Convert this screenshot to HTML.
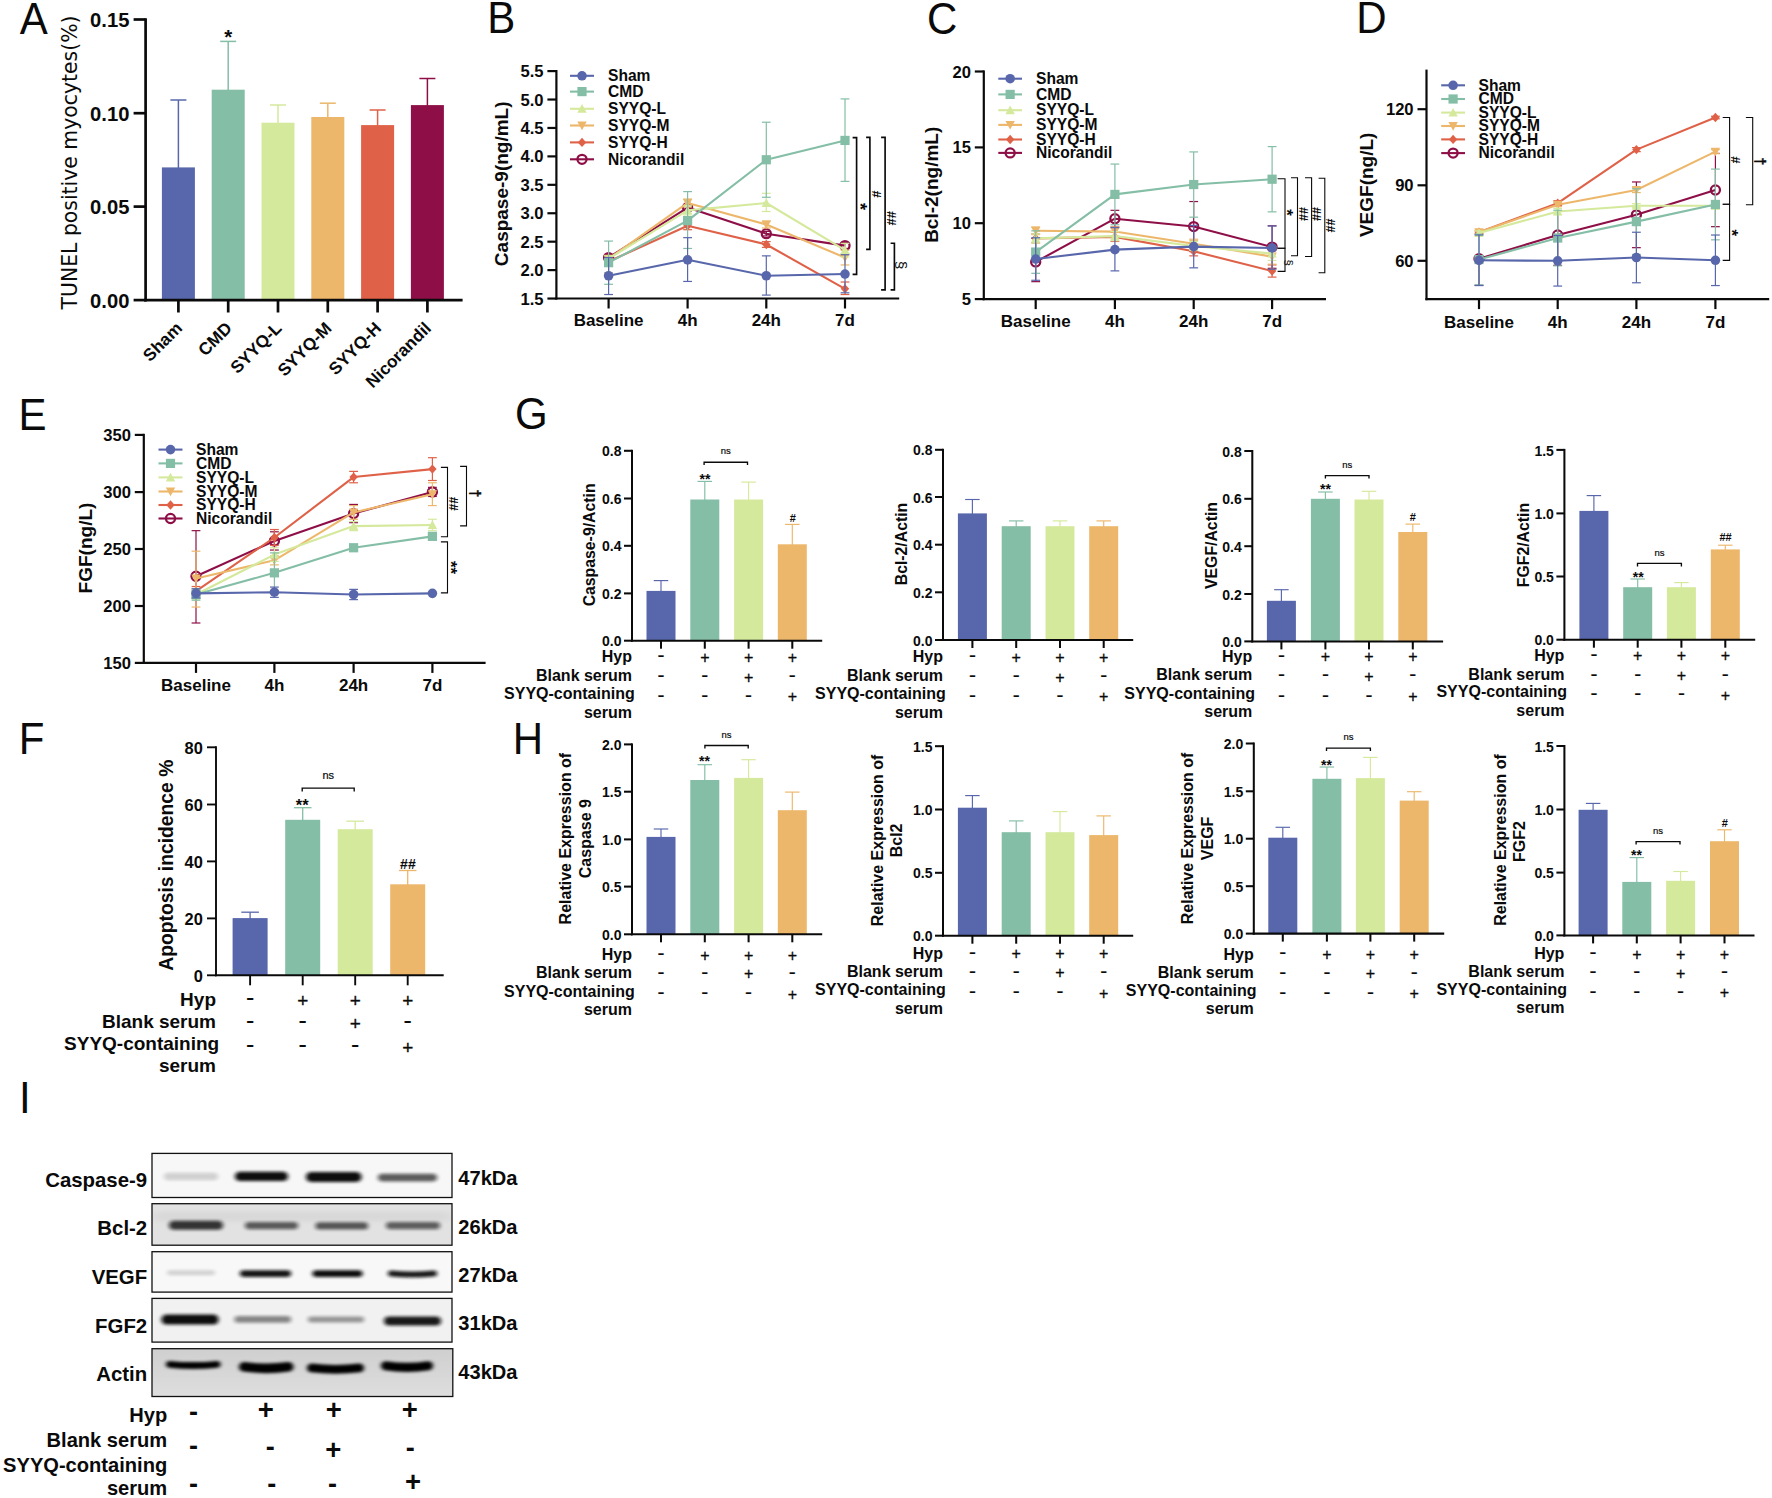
<!DOCTYPE html>
<html lang="en">
<head>
<meta charset="utf-8">
<title>Figure</title>
<style>
html,body{margin:0;padding:0;background:#fff;}
body{width:1772px;height:1498px;overflow:hidden;font-family:"Liberation Sans",Arial,sans-serif;}
svg{display:block;}
</style>
</head>
<body>
<svg width="1772" height="1498" viewBox="0 0 1772 1498" font-family="'Liberation Sans', Arial, sans-serif">
<text transform="translate(19.82 33.6) scale(1 1.05)" font-size="42" font-weight="400" fill="#0a0a0a">A</text>
<line x1="178.4" y1="100" x2="178.4" y2="168.4" stroke="#5867AB" stroke-width="1.5" stroke-linecap="butt"/>
<line x1="170.4" y1="100" x2="186.4" y2="100" stroke="#5867AB" stroke-width="1.5" stroke-linecap="butt"/>
<rect x="161.9" y="167.4" width="33" height="132.7" fill="#5867AB"/>
<line x1="228.2" y1="41.4" x2="228.2" y2="90.7" stroke="#84BEA6" stroke-width="1.5" stroke-linecap="butt"/>
<line x1="220.2" y1="41.4" x2="236.2" y2="41.4" stroke="#84BEA6" stroke-width="1.5" stroke-linecap="butt"/>
<rect x="211.7" y="89.7" width="33" height="210.4" fill="#84BEA6"/>
<line x1="278" y1="105" x2="278" y2="123.7" stroke="#D5E99C" stroke-width="1.5" stroke-linecap="butt"/>
<line x1="270" y1="105" x2="286" y2="105" stroke="#D5E99C" stroke-width="1.5" stroke-linecap="butt"/>
<rect x="261.5" y="122.7" width="33" height="177.4" fill="#D5E99C"/>
<line x1="327.8" y1="103.2" x2="327.8" y2="118" stroke="#EDB76B" stroke-width="1.5" stroke-linecap="butt"/>
<line x1="319.8" y1="103.2" x2="335.8" y2="103.2" stroke="#EDB76B" stroke-width="1.5" stroke-linecap="butt"/>
<rect x="311.3" y="117" width="33" height="183.1" fill="#EDB76B"/>
<line x1="377.6" y1="110" x2="377.6" y2="126.1" stroke="#DF6148" stroke-width="1.5" stroke-linecap="butt"/>
<line x1="369.6" y1="110" x2="385.6" y2="110" stroke="#DF6148" stroke-width="1.5" stroke-linecap="butt"/>
<rect x="361.1" y="125.1" width="33" height="175" fill="#DF6148"/>
<line x1="427.4" y1="78.5" x2="427.4" y2="106.1" stroke="#8E0F47" stroke-width="1.5" stroke-linecap="butt"/>
<line x1="419.4" y1="78.5" x2="435.4" y2="78.5" stroke="#8E0F47" stroke-width="1.5" stroke-linecap="butt"/>
<rect x="410.9" y="105.1" width="33" height="195" fill="#8E0F47"/>
<line x1="145.6" y1="18.15" x2="145.6" y2="301.45" stroke="#0a0a0a" stroke-width="2.7" stroke-linecap="butt"/>
<line x1="144.25" y1="300.1" x2="462.6" y2="300.1" stroke="#0a0a0a" stroke-width="2.7" stroke-linecap="butt"/>
<line x1="133.6" y1="19.5" x2="145.6" y2="19.5" stroke="#0a0a0a" stroke-width="2.7" stroke-linecap="butt"/>
<text x="129.4" y="27.28" font-size="20.2" font-weight="700" text-anchor="end" fill="#0a0a0a">0.15</text>
<line x1="133.6" y1="113.2" x2="145.6" y2="113.2" stroke="#0a0a0a" stroke-width="2.7" stroke-linecap="butt"/>
<text x="129.4" y="120.98" font-size="20.2" font-weight="700" text-anchor="end" fill="#0a0a0a">0.10</text>
<line x1="133.6" y1="206.6" x2="145.6" y2="206.6" stroke="#0a0a0a" stroke-width="2.7" stroke-linecap="butt"/>
<text x="129.4" y="214.38" font-size="20.2" font-weight="700" text-anchor="end" fill="#0a0a0a">0.05</text>
<line x1="133.6" y1="300.1" x2="145.6" y2="300.1" stroke="#0a0a0a" stroke-width="2.7" stroke-linecap="butt"/>
<text x="129.4" y="307.88" font-size="20.2" font-weight="700" text-anchor="end" fill="#0a0a0a">0.00</text>
<line x1="178.4" y1="300.1" x2="178.4" y2="312.5" stroke="#0a0a0a" stroke-width="2.7" stroke-linecap="butt"/>
<line x1="228.2" y1="300.1" x2="228.2" y2="312.5" stroke="#0a0a0a" stroke-width="2.7" stroke-linecap="butt"/>
<line x1="278" y1="300.1" x2="278" y2="312.5" stroke="#0a0a0a" stroke-width="2.7" stroke-linecap="butt"/>
<line x1="327.8" y1="300.1" x2="327.8" y2="312.5" stroke="#0a0a0a" stroke-width="2.7" stroke-linecap="butt"/>
<line x1="377.6" y1="300.1" x2="377.6" y2="312.5" stroke="#0a0a0a" stroke-width="2.7" stroke-linecap="butt"/>
<line x1="427.4" y1="300.1" x2="427.4" y2="312.5" stroke="#0a0a0a" stroke-width="2.7" stroke-linecap="butt"/>
<text x="77.2" y="162.5" font-size="20.4" font-weight="400" text-anchor="middle" fill="#0a0a0a" transform="rotate(-90 77.2 162.5)" font-family="'DejaVu Sans', 'Liberation Sans', sans-serif">TUNEL positive myocytes(%)</text>
<text x="183.2" y="329.3" font-size="17.2" font-weight="700" text-anchor="end" fill="#0a0a0a" transform="rotate(-45 183.2 329.3)">Sham</text>
<text x="233" y="329.3" font-size="17.2" font-weight="700" text-anchor="end" fill="#0a0a0a" transform="rotate(-45 233 329.3)">CMD</text>
<text x="282.8" y="329.3" font-size="17.2" font-weight="700" text-anchor="end" fill="#0a0a0a" transform="rotate(-45 282.8 329.3)">SYYQ-L</text>
<text x="332.6" y="329.3" font-size="17.2" font-weight="700" text-anchor="end" fill="#0a0a0a" transform="rotate(-45 332.6 329.3)">SYYQ-M</text>
<text x="382.4" y="329.3" font-size="17.2" font-weight="700" text-anchor="end" fill="#0a0a0a" transform="rotate(-45 382.4 329.3)">SYYQ-H</text>
<text x="432.2" y="329.3" font-size="17.2" font-weight="700" text-anchor="end" fill="#0a0a0a" transform="rotate(-45 432.2 329.3)">Nicorandil</text>
<text x="228.3" y="44.19" font-size="20.5" font-weight="700" text-anchor="middle" fill="#0a0a0a">*</text>
<text transform="translate(487.35 33.4) scale(1 1.05)" font-size="42" font-weight="400" fill="#0a0a0a">B</text>
<line x1="608.6" y1="254.72" x2="608.6" y2="260.4" stroke="#8E0F47" stroke-width="1.2" stroke-linecap="butt"/>
<line x1="604.2" y1="254.72" x2="613" y2="254.72" stroke="#8E0F47" stroke-width="1.2" stroke-linecap="butt"/>
<line x1="604.2" y1="260.4" x2="613" y2="260.4" stroke="#8E0F47" stroke-width="1.2" stroke-linecap="butt"/>
<line x1="687.6" y1="204.68" x2="687.6" y2="210.37" stroke="#8E0F47" stroke-width="1.2" stroke-linecap="butt"/>
<line x1="683.2" y1="204.68" x2="692" y2="204.68" stroke="#8E0F47" stroke-width="1.2" stroke-linecap="butt"/>
<line x1="683.2" y1="210.37" x2="692" y2="210.37" stroke="#8E0F47" stroke-width="1.2" stroke-linecap="butt"/>
<line x1="766.3" y1="231.41" x2="766.3" y2="235.95" stroke="#8E0F47" stroke-width="1.2" stroke-linecap="butt"/>
<line x1="761.9" y1="231.41" x2="770.7" y2="231.41" stroke="#8E0F47" stroke-width="1.2" stroke-linecap="butt"/>
<line x1="761.9" y1="235.95" x2="770.7" y2="235.95" stroke="#8E0F47" stroke-width="1.2" stroke-linecap="butt"/>
<line x1="845" y1="242.78" x2="845" y2="248.46" stroke="#8E0F47" stroke-width="1.2" stroke-linecap="butt"/>
<line x1="840.6" y1="242.78" x2="849.4" y2="242.78" stroke="#8E0F47" stroke-width="1.2" stroke-linecap="butt"/>
<line x1="840.6" y1="248.46" x2="849.4" y2="248.46" stroke="#8E0F47" stroke-width="1.2" stroke-linecap="butt"/>
<polyline points="608.6,257.56 687.6,207.52 766.3,233.68 845,245.62" fill="none" stroke="#8E0F47" stroke-width="2.1" stroke-linejoin="round"/>
<circle cx="608.6" cy="257.56" r="4.55" fill="none" stroke="#8E0F47" stroke-width="2.25"/>
<circle cx="687.6" cy="207.52" r="4.55" fill="none" stroke="#8E0F47" stroke-width="2.25"/>
<circle cx="766.3" cy="233.68" r="4.55" fill="none" stroke="#8E0F47" stroke-width="2.25"/>
<circle cx="845" cy="245.62" r="4.55" fill="none" stroke="#8E0F47" stroke-width="2.25"/>
<line x1="608.6" y1="258.7" x2="608.6" y2="264.38" stroke="#DF6148" stroke-width="1.2" stroke-linecap="butt"/>
<line x1="604.2" y1="258.7" x2="613" y2="258.7" stroke="#DF6148" stroke-width="1.2" stroke-linecap="butt"/>
<line x1="604.2" y1="264.38" x2="613" y2="264.38" stroke="#DF6148" stroke-width="1.2" stroke-linecap="butt"/>
<line x1="687.6" y1="221.74" x2="687.6" y2="229.7" stroke="#DF6148" stroke-width="1.2" stroke-linecap="butt"/>
<line x1="683.2" y1="221.74" x2="692" y2="221.74" stroke="#DF6148" stroke-width="1.2" stroke-linecap="butt"/>
<line x1="683.2" y1="229.7" x2="692" y2="229.7" stroke="#DF6148" stroke-width="1.2" stroke-linecap="butt"/>
<line x1="766.3" y1="241.64" x2="766.3" y2="247.33" stroke="#DF6148" stroke-width="1.2" stroke-linecap="butt"/>
<line x1="761.9" y1="241.64" x2="770.7" y2="241.64" stroke="#DF6148" stroke-width="1.2" stroke-linecap="butt"/>
<line x1="761.9" y1="247.33" x2="770.7" y2="247.33" stroke="#DF6148" stroke-width="1.2" stroke-linecap="butt"/>
<line x1="845" y1="282.01" x2="845" y2="294.52" stroke="#DF6148" stroke-width="1.2" stroke-linecap="butt"/>
<line x1="840.6" y1="282.01" x2="849.4" y2="282.01" stroke="#DF6148" stroke-width="1.2" stroke-linecap="butt"/>
<line x1="840.6" y1="294.52" x2="849.4" y2="294.52" stroke="#DF6148" stroke-width="1.2" stroke-linecap="butt"/>
<polyline points="608.6,261.54 687.6,225.72 766.3,244.48 845,288.83" fill="none" stroke="#DF6148" stroke-width="2.1" stroke-linejoin="round"/>
<polygon points="608.6,256.84 612.8,261.54 608.6,266.24 604.4,261.54" fill="#DF6148"/>
<polygon points="687.6,221.02 691.8,225.72 687.6,230.42 683.4,225.72" fill="#DF6148"/>
<polygon points="766.3,239.78 770.5,244.48 766.3,249.18 762.1,244.48" fill="#DF6148"/>
<polygon points="845,284.13 849.2,288.83 845,293.53 840.8,288.83" fill="#DF6148"/>
<line x1="608.6" y1="255.86" x2="608.6" y2="272.91" stroke="#EDB76B" stroke-width="1.2" stroke-linecap="butt"/>
<line x1="604.2" y1="255.86" x2="613" y2="255.86" stroke="#EDB76B" stroke-width="1.2" stroke-linecap="butt"/>
<line x1="604.2" y1="272.91" x2="613" y2="272.91" stroke="#EDB76B" stroke-width="1.2" stroke-linecap="butt"/>
<line x1="687.6" y1="199" x2="687.6" y2="206.96" stroke="#EDB76B" stroke-width="1.2" stroke-linecap="butt"/>
<line x1="683.2" y1="199" x2="692" y2="199" stroke="#EDB76B" stroke-width="1.2" stroke-linecap="butt"/>
<line x1="683.2" y1="206.96" x2="692" y2="206.96" stroke="#EDB76B" stroke-width="1.2" stroke-linecap="butt"/>
<line x1="766.3" y1="221.17" x2="766.3" y2="227.99" stroke="#EDB76B" stroke-width="1.2" stroke-linecap="butt"/>
<line x1="761.9" y1="221.17" x2="770.7" y2="221.17" stroke="#EDB76B" stroke-width="1.2" stroke-linecap="butt"/>
<line x1="761.9" y1="227.99" x2="770.7" y2="227.99" stroke="#EDB76B" stroke-width="1.2" stroke-linecap="butt"/>
<line x1="845" y1="250.17" x2="845" y2="264.95" stroke="#EDB76B" stroke-width="1.2" stroke-linecap="butt"/>
<line x1="840.6" y1="250.17" x2="849.4" y2="250.17" stroke="#EDB76B" stroke-width="1.2" stroke-linecap="butt"/>
<line x1="840.6" y1="264.95" x2="849.4" y2="264.95" stroke="#EDB76B" stroke-width="1.2" stroke-linecap="butt"/>
<polyline points="608.6,258.7 687.6,202.98 766.3,224.58 845,257.56" fill="none" stroke="#EDB76B" stroke-width="2.1" stroke-linejoin="round"/>
<polygon points="608.6,263.4 603.9,254.7 613.3,254.7" fill="#EDB76B"/>
<polygon points="687.6,207.68 682.9,198.98 692.3,198.98" fill="#EDB76B"/>
<polygon points="766.3,229.28 761.6,220.59 771,220.59" fill="#EDB76B"/>
<polygon points="845,262.26 840.3,253.57 849.7,253.57" fill="#EDB76B"/>
<line x1="608.6" y1="255.86" x2="608.6" y2="261.54" stroke="#D5E99C" stroke-width="1.2" stroke-linecap="butt"/>
<line x1="604.2" y1="255.86" x2="613" y2="255.86" stroke="#D5E99C" stroke-width="1.2" stroke-linecap="butt"/>
<line x1="604.2" y1="261.54" x2="613" y2="261.54" stroke="#D5E99C" stroke-width="1.2" stroke-linecap="butt"/>
<line x1="687.6" y1="205.82" x2="687.6" y2="214.92" stroke="#D5E99C" stroke-width="1.2" stroke-linecap="butt"/>
<line x1="683.2" y1="205.82" x2="692" y2="205.82" stroke="#D5E99C" stroke-width="1.2" stroke-linecap="butt"/>
<line x1="683.2" y1="214.92" x2="692" y2="214.92" stroke="#D5E99C" stroke-width="1.2" stroke-linecap="butt"/>
<line x1="766.3" y1="193.31" x2="766.3" y2="211.5" stroke="#D5E99C" stroke-width="1.2" stroke-linecap="butt"/>
<line x1="761.9" y1="193.31" x2="770.7" y2="193.31" stroke="#D5E99C" stroke-width="1.2" stroke-linecap="butt"/>
<line x1="761.9" y1="211.5" x2="770.7" y2="211.5" stroke="#D5E99C" stroke-width="1.2" stroke-linecap="butt"/>
<line x1="845" y1="243.35" x2="845" y2="256.99" stroke="#D5E99C" stroke-width="1.2" stroke-linecap="butt"/>
<line x1="840.6" y1="243.35" x2="849.4" y2="243.35" stroke="#D5E99C" stroke-width="1.2" stroke-linecap="butt"/>
<line x1="840.6" y1="256.99" x2="849.4" y2="256.99" stroke="#D5E99C" stroke-width="1.2" stroke-linecap="butt"/>
<polyline points="608.6,258.7 687.6,210.37 766.3,202.98 845,250.17" fill="none" stroke="#D5E99C" stroke-width="2.1" stroke-linejoin="round"/>
<polygon points="608.6,254 603.9,262.69 613.3,262.69" fill="#D5E99C"/>
<polygon points="687.6,205.67 682.9,214.36 692.3,214.36" fill="#D5E99C"/>
<polygon points="766.3,198.28 761.6,206.97 771,206.97" fill="#D5E99C"/>
<polygon points="845,245.47 840.3,254.16 849.7,254.16" fill="#D5E99C"/>
<line x1="608.6" y1="241.07" x2="608.6" y2="284.29" stroke="#84BEA6" stroke-width="1.2" stroke-linecap="butt"/>
<line x1="604.2" y1="241.07" x2="613" y2="241.07" stroke="#84BEA6" stroke-width="1.2" stroke-linecap="butt"/>
<line x1="604.2" y1="284.29" x2="613" y2="284.29" stroke="#84BEA6" stroke-width="1.2" stroke-linecap="butt"/>
<line x1="687.6" y1="191.6" x2="687.6" y2="248.46" stroke="#84BEA6" stroke-width="1.2" stroke-linecap="butt"/>
<line x1="683.2" y1="191.6" x2="692" y2="191.6" stroke="#84BEA6" stroke-width="1.2" stroke-linecap="butt"/>
<line x1="683.2" y1="248.46" x2="692" y2="248.46" stroke="#84BEA6" stroke-width="1.2" stroke-linecap="butt"/>
<line x1="766.3" y1="122.23" x2="766.3" y2="197.29" stroke="#84BEA6" stroke-width="1.2" stroke-linecap="butt"/>
<line x1="761.9" y1="122.23" x2="770.7" y2="122.23" stroke="#84BEA6" stroke-width="1.2" stroke-linecap="butt"/>
<line x1="761.9" y1="197.29" x2="770.7" y2="197.29" stroke="#84BEA6" stroke-width="1.2" stroke-linecap="butt"/>
<line x1="845" y1="98.92" x2="845" y2="181.37" stroke="#84BEA6" stroke-width="1.2" stroke-linecap="butt"/>
<line x1="840.6" y1="98.92" x2="849.4" y2="98.92" stroke="#84BEA6" stroke-width="1.2" stroke-linecap="butt"/>
<line x1="840.6" y1="181.37" x2="849.4" y2="181.37" stroke="#84BEA6" stroke-width="1.2" stroke-linecap="butt"/>
<polyline points="608.6,262.68 687.6,220.6 766.3,159.76 845,140.43" fill="none" stroke="#84BEA6" stroke-width="2.1" stroke-linejoin="round"/>
<rect x="604" y="258.08" width="9.2" height="9.2" fill="#84BEA6"/>
<rect x="683" y="216" width="9.2" height="9.2" fill="#84BEA6"/>
<rect x="761.7" y="155.16" width="9.2" height="9.2" fill="#84BEA6"/>
<rect x="840.4" y="135.83" width="9.2" height="9.2" fill="#84BEA6"/>
<line x1="608.6" y1="257.56" x2="608.6" y2="294.52" stroke="#5867AB" stroke-width="1.2" stroke-linecap="butt"/>
<line x1="604.2" y1="257.56" x2="613" y2="257.56" stroke="#5867AB" stroke-width="1.2" stroke-linecap="butt"/>
<line x1="604.2" y1="294.52" x2="613" y2="294.52" stroke="#5867AB" stroke-width="1.2" stroke-linecap="butt"/>
<line x1="687.6" y1="237.66" x2="687.6" y2="281.44" stroke="#5867AB" stroke-width="1.2" stroke-linecap="butt"/>
<line x1="683.2" y1="237.66" x2="692" y2="237.66" stroke="#5867AB" stroke-width="1.2" stroke-linecap="butt"/>
<line x1="683.2" y1="281.44" x2="692" y2="281.44" stroke="#5867AB" stroke-width="1.2" stroke-linecap="butt"/>
<line x1="766.3" y1="255.86" x2="766.3" y2="295.09" stroke="#5867AB" stroke-width="1.2" stroke-linecap="butt"/>
<line x1="761.9" y1="255.86" x2="770.7" y2="255.86" stroke="#5867AB" stroke-width="1.2" stroke-linecap="butt"/>
<line x1="761.9" y1="295.09" x2="770.7" y2="295.09" stroke="#5867AB" stroke-width="1.2" stroke-linecap="butt"/>
<line x1="845" y1="254.72" x2="845" y2="292.81" stroke="#5867AB" stroke-width="1.2" stroke-linecap="butt"/>
<line x1="840.6" y1="254.72" x2="849.4" y2="254.72" stroke="#5867AB" stroke-width="1.2" stroke-linecap="butt"/>
<line x1="840.6" y1="292.81" x2="849.4" y2="292.81" stroke="#5867AB" stroke-width="1.2" stroke-linecap="butt"/>
<polyline points="608.6,275.76 687.6,259.84 766.3,275.76 845,274.05" fill="none" stroke="#5867AB" stroke-width="2.1" stroke-linejoin="round"/>
<circle cx="608.6" cy="275.76" r="4.8" fill="#5867AB"/>
<circle cx="687.6" cy="259.84" r="4.8" fill="#5867AB"/>
<circle cx="766.3" cy="275.76" r="4.8" fill="#5867AB"/>
<circle cx="845" cy="274.05" r="4.8" fill="#5867AB"/>
<line x1="556.4" y1="70" x2="556.4" y2="299.6" stroke="#0a0a0a" stroke-width="2.2" stroke-linecap="butt"/>
<line x1="555.3" y1="298.5" x2="899.2" y2="298.5" stroke="#0a0a0a" stroke-width="2.2" stroke-linecap="butt"/>
<line x1="547.4" y1="71.1" x2="556.4" y2="71.1" stroke="#0a0a0a" stroke-width="2.2" stroke-linecap="butt"/>
<text x="543.5" y="77.13" font-size="16.6" font-weight="700" text-anchor="end" fill="#0a0a0a">5.5</text>
<line x1="547.4" y1="99.53" x2="556.4" y2="99.53" stroke="#0a0a0a" stroke-width="2.2" stroke-linecap="butt"/>
<text x="543.5" y="105.56" font-size="16.6" font-weight="700" text-anchor="end" fill="#0a0a0a">5.0</text>
<line x1="547.4" y1="127.96" x2="556.4" y2="127.96" stroke="#0a0a0a" stroke-width="2.2" stroke-linecap="butt"/>
<text x="543.5" y="134" font-size="16.6" font-weight="700" text-anchor="end" fill="#0a0a0a">4.5</text>
<line x1="547.4" y1="156.39" x2="556.4" y2="156.39" stroke="#0a0a0a" stroke-width="2.2" stroke-linecap="butt"/>
<text x="543.5" y="162.42" font-size="16.6" font-weight="700" text-anchor="end" fill="#0a0a0a">4.0</text>
<line x1="547.4" y1="184.82" x2="556.4" y2="184.82" stroke="#0a0a0a" stroke-width="2.2" stroke-linecap="butt"/>
<text x="543.5" y="190.85" font-size="16.6" font-weight="700" text-anchor="end" fill="#0a0a0a">3.5</text>
<line x1="547.4" y1="213.25" x2="556.4" y2="213.25" stroke="#0a0a0a" stroke-width="2.2" stroke-linecap="butt"/>
<text x="543.5" y="219.28" font-size="16.6" font-weight="700" text-anchor="end" fill="#0a0a0a">3.0</text>
<line x1="547.4" y1="241.68" x2="556.4" y2="241.68" stroke="#0a0a0a" stroke-width="2.2" stroke-linecap="butt"/>
<text x="543.5" y="247.71" font-size="16.6" font-weight="700" text-anchor="end" fill="#0a0a0a">2.5</text>
<line x1="547.4" y1="270.11" x2="556.4" y2="270.11" stroke="#0a0a0a" stroke-width="2.2" stroke-linecap="butt"/>
<text x="543.5" y="276.15" font-size="16.6" font-weight="700" text-anchor="end" fill="#0a0a0a">2.0</text>
<line x1="547.4" y1="298.54" x2="556.4" y2="298.54" stroke="#0a0a0a" stroke-width="2.2" stroke-linecap="butt"/>
<text x="543.5" y="304.57" font-size="16.6" font-weight="700" text-anchor="end" fill="#0a0a0a">1.5</text>
<line x1="608.6" y1="298.5" x2="608.6" y2="308.5" stroke="#0a0a0a" stroke-width="2.2" stroke-linecap="butt"/>
<text x="608.6" y="326.4" font-size="17" font-weight="700" text-anchor="middle" fill="#0a0a0a">Baseline</text>
<line x1="687.6" y1="298.5" x2="687.6" y2="308.5" stroke="#0a0a0a" stroke-width="2.2" stroke-linecap="butt"/>
<text x="687.6" y="326.4" font-size="17" font-weight="700" text-anchor="middle" fill="#0a0a0a">4h</text>
<line x1="766.3" y1="298.5" x2="766.3" y2="308.5" stroke="#0a0a0a" stroke-width="2.2" stroke-linecap="butt"/>
<text x="766.3" y="326.4" font-size="17" font-weight="700" text-anchor="middle" fill="#0a0a0a">24h</text>
<line x1="845" y1="298.5" x2="845" y2="308.5" stroke="#0a0a0a" stroke-width="2.2" stroke-linecap="butt"/>
<text x="845" y="326.4" font-size="17" font-weight="700" text-anchor="middle" fill="#0a0a0a">7d</text>
<line x1="570" y1="75.8" x2="594" y2="75.8" stroke="#5867AB" stroke-width="2.1" stroke-linecap="butt"/>
<circle cx="582" cy="75.8" r="4.8" fill="#5867AB"/>
<text x="608" y="81.03" font-size="15.6" font-weight="700" text-anchor="start" fill="#0a0a0a">Sham</text>
<line x1="570" y1="91.6" x2="594" y2="91.6" stroke="#84BEA6" stroke-width="2.1" stroke-linecap="butt"/>
<rect x="577.4" y="87" width="9.2" height="9.2" fill="#84BEA6"/>
<text x="608" y="96.83" font-size="15.6" font-weight="700" text-anchor="start" fill="#0a0a0a">CMD</text>
<line x1="570" y1="108.8" x2="594" y2="108.8" stroke="#D5E99C" stroke-width="2.1" stroke-linecap="butt"/>
<polygon points="582,104.1 577.3,112.8 586.7,112.8" fill="#D5E99C"/>
<text x="608" y="114.03" font-size="15.6" font-weight="700" text-anchor="start" fill="#0a0a0a">SYYQ-L</text>
<line x1="570" y1="125.5" x2="594" y2="125.5" stroke="#EDB76B" stroke-width="2.1" stroke-linecap="butt"/>
<polygon points="582,130.2 577.3,121.5 586.7,121.5" fill="#EDB76B"/>
<text x="608" y="130.73" font-size="15.6" font-weight="700" text-anchor="start" fill="#0a0a0a">SYYQ-M</text>
<line x1="570" y1="142.4" x2="594" y2="142.4" stroke="#DF6148" stroke-width="2.1" stroke-linecap="butt"/>
<polygon points="582,137.7 586.2,142.4 582,147.1 577.8,142.4" fill="#DF6148"/>
<text x="608" y="147.63" font-size="15.6" font-weight="700" text-anchor="start" fill="#0a0a0a">SYYQ-H</text>
<line x1="570" y1="159.3" x2="594" y2="159.3" stroke="#8E0F47" stroke-width="2.1" stroke-linecap="butt"/>
<circle cx="582" cy="159.3" r="4.55" fill="none" stroke="#8E0F47" stroke-width="2.25"/>
<text x="608" y="164.53" font-size="15.6" font-weight="700" text-anchor="start" fill="#0a0a0a">Nicorandil</text>
<text x="508.5" y="183.8" font-size="19" font-weight="700" text-anchor="middle" fill="#0a0a0a" transform="rotate(-90 508.5 183.8)">Caspase-9(ng/mL)</text>
<polyline points="852.6,137.6 856.6,137.6 856.6,274.4 852.6,274.4" fill="none" stroke="#0a0a0a" stroke-width="1.65" stroke-linejoin="miter"/>
<polyline points="866.1,137.4 869.9,137.4 869.9,249.3 866.1,249.3" fill="none" stroke="#0a0a0a" stroke-width="1.65" stroke-linejoin="miter"/>
<polyline points="881.1,137.4 885.1,137.4 885.1,289.9 881.1,289.9" fill="none" stroke="#0a0a0a" stroke-width="1.65" stroke-linejoin="miter"/>
<polyline points="890.6,243.2 894.4,243.2 894.4,289.9 890.6,289.9" fill="none" stroke="#0a0a0a" stroke-width="1.65" stroke-linejoin="miter"/>
<text x="854.07" y="206.6" font-size="18" font-weight="700" text-anchor="middle" fill="#0a0a0a" transform="rotate(90 854.07 206.6)">*</text>
<text x="871.55" y="194.2" font-size="13" font-weight="700" text-anchor="middle" fill="#0a0a0a" transform="rotate(90 871.55 194.2)">#</text>
<text x="886.75" y="218.2" font-size="13" font-weight="700" text-anchor="middle" fill="#0a0a0a" transform="rotate(90 886.75 218.2)">##</text>
<text x="896.44" y="265.1" font-size="15.5" font-weight="400" text-anchor="middle" fill="#0a0a0a" transform="rotate(90 896.44 265.1)">§</text>
<text transform="translate(927.07 33.6) scale(1 1.05)" font-size="42" font-weight="400" fill="#0a0a0a">C</text>
<line x1="1035.7" y1="238.41" x2="1035.7" y2="281.65" stroke="#8E0F47" stroke-width="1.2" stroke-linecap="butt"/>
<line x1="1031.3" y1="238.41" x2="1040.1" y2="238.41" stroke="#8E0F47" stroke-width="1.2" stroke-linecap="butt"/>
<line x1="1031.3" y1="281.65" x2="1040.1" y2="281.65" stroke="#8E0F47" stroke-width="1.2" stroke-linecap="butt"/>
<line x1="1114.9" y1="210.34" x2="1114.9" y2="227.03" stroke="#8E0F47" stroke-width="1.2" stroke-linecap="butt"/>
<line x1="1110.5" y1="210.34" x2="1119.3" y2="210.34" stroke="#8E0F47" stroke-width="1.2" stroke-linecap="butt"/>
<line x1="1110.5" y1="227.03" x2="1119.3" y2="227.03" stroke="#8E0F47" stroke-width="1.2" stroke-linecap="butt"/>
<line x1="1193.7" y1="201.54" x2="1193.7" y2="251.61" stroke="#8E0F47" stroke-width="1.2" stroke-linecap="butt"/>
<line x1="1189.3" y1="201.54" x2="1198.1" y2="201.54" stroke="#8E0F47" stroke-width="1.2" stroke-linecap="butt"/>
<line x1="1189.3" y1="251.61" x2="1198.1" y2="251.61" stroke="#8E0F47" stroke-width="1.2" stroke-linecap="butt"/>
<line x1="1272.1" y1="225.81" x2="1272.1" y2="268.3" stroke="#8E0F47" stroke-width="1.2" stroke-linecap="butt"/>
<line x1="1267.7" y1="225.81" x2="1276.5" y2="225.81" stroke="#8E0F47" stroke-width="1.2" stroke-linecap="butt"/>
<line x1="1267.7" y1="268.3" x2="1276.5" y2="268.3" stroke="#8E0F47" stroke-width="1.2" stroke-linecap="butt"/>
<polyline points="1035.7,261.93 1114.9,218.68 1193.7,226.57 1272.1,247.06" fill="none" stroke="#8E0F47" stroke-width="2.1" stroke-linejoin="round"/>
<circle cx="1035.7" cy="261.93" r="4.55" fill="none" stroke="#8E0F47" stroke-width="2.25"/>
<circle cx="1114.9" cy="218.68" r="4.55" fill="none" stroke="#8E0F47" stroke-width="2.25"/>
<circle cx="1193.7" cy="226.57" r="4.55" fill="none" stroke="#8E0F47" stroke-width="2.25"/>
<circle cx="1272.1" cy="247.06" r="4.55" fill="none" stroke="#8E0F47" stroke-width="2.25"/>
<line x1="1035.7" y1="233.86" x2="1035.7" y2="242.96" stroke="#DF6148" stroke-width="1.2" stroke-linecap="butt"/>
<line x1="1031.3" y1="233.86" x2="1040.1" y2="233.86" stroke="#DF6148" stroke-width="1.2" stroke-linecap="butt"/>
<line x1="1031.3" y1="242.96" x2="1040.1" y2="242.96" stroke="#DF6148" stroke-width="1.2" stroke-linecap="butt"/>
<line x1="1114.9" y1="232.34" x2="1114.9" y2="241.44" stroke="#DF6148" stroke-width="1.2" stroke-linecap="butt"/>
<line x1="1110.5" y1="232.34" x2="1119.3" y2="232.34" stroke="#DF6148" stroke-width="1.2" stroke-linecap="butt"/>
<line x1="1110.5" y1="241.44" x2="1119.3" y2="241.44" stroke="#DF6148" stroke-width="1.2" stroke-linecap="butt"/>
<line x1="1193.7" y1="246.75" x2="1193.7" y2="255.86" stroke="#DF6148" stroke-width="1.2" stroke-linecap="butt"/>
<line x1="1189.3" y1="246.75" x2="1198.1" y2="246.75" stroke="#DF6148" stroke-width="1.2" stroke-linecap="butt"/>
<line x1="1189.3" y1="255.86" x2="1198.1" y2="255.86" stroke="#DF6148" stroke-width="1.2" stroke-linecap="butt"/>
<line x1="1272.1" y1="264.96" x2="1272.1" y2="277.1" stroke="#DF6148" stroke-width="1.2" stroke-linecap="butt"/>
<line x1="1267.7" y1="264.96" x2="1276.5" y2="264.96" stroke="#DF6148" stroke-width="1.2" stroke-linecap="butt"/>
<line x1="1267.7" y1="277.1" x2="1276.5" y2="277.1" stroke="#DF6148" stroke-width="1.2" stroke-linecap="butt"/>
<polyline points="1035.7,238.41 1114.9,236.89 1193.7,251.31 1272.1,271.03" fill="none" stroke="#DF6148" stroke-width="2.1" stroke-linejoin="round"/>
<polygon points="1035.7,233.71 1039.9,238.41 1035.7,243.11 1031.5,238.41" fill="#DF6148"/>
<polygon points="1114.9,232.19 1119.1,236.89 1114.9,241.59 1110.7,236.89" fill="#DF6148"/>
<polygon points="1193.7,246.61 1197.9,251.31 1193.7,256.01 1189.5,251.31" fill="#DF6148"/>
<polygon points="1272.1,266.33 1276.3,271.03 1272.1,275.73 1267.9,271.03" fill="#DF6148"/>
<line x1="1035.7" y1="227.03" x2="1035.7" y2="234.61" stroke="#EDB76B" stroke-width="1.2" stroke-linecap="butt"/>
<line x1="1031.3" y1="227.03" x2="1040.1" y2="227.03" stroke="#EDB76B" stroke-width="1.2" stroke-linecap="butt"/>
<line x1="1031.3" y1="234.61" x2="1040.1" y2="234.61" stroke="#EDB76B" stroke-width="1.2" stroke-linecap="butt"/>
<line x1="1114.9" y1="227.03" x2="1114.9" y2="236.13" stroke="#EDB76B" stroke-width="1.2" stroke-linecap="butt"/>
<line x1="1110.5" y1="227.03" x2="1119.3" y2="227.03" stroke="#EDB76B" stroke-width="1.2" stroke-linecap="butt"/>
<line x1="1110.5" y1="236.13" x2="1119.3" y2="236.13" stroke="#EDB76B" stroke-width="1.2" stroke-linecap="butt"/>
<line x1="1193.7" y1="239.17" x2="1193.7" y2="248.27" stroke="#EDB76B" stroke-width="1.2" stroke-linecap="butt"/>
<line x1="1189.3" y1="239.17" x2="1198.1" y2="239.17" stroke="#EDB76B" stroke-width="1.2" stroke-linecap="butt"/>
<line x1="1189.3" y1="248.27" x2="1198.1" y2="248.27" stroke="#EDB76B" stroke-width="1.2" stroke-linecap="butt"/>
<line x1="1272.1" y1="249.03" x2="1272.1" y2="264.2" stroke="#EDB76B" stroke-width="1.2" stroke-linecap="butt"/>
<line x1="1267.7" y1="249.03" x2="1276.5" y2="249.03" stroke="#EDB76B" stroke-width="1.2" stroke-linecap="butt"/>
<line x1="1267.7" y1="264.2" x2="1276.5" y2="264.2" stroke="#EDB76B" stroke-width="1.2" stroke-linecap="butt"/>
<polyline points="1035.7,230.82 1114.9,231.58 1193.7,243.72 1272.1,256.62" fill="none" stroke="#EDB76B" stroke-width="2.1" stroke-linejoin="round"/>
<polygon points="1035.7,235.52 1031,226.83 1040.4,226.83" fill="#EDB76B"/>
<polygon points="1114.9,236.28 1110.2,227.59 1119.6,227.59" fill="#EDB76B"/>
<polygon points="1193.7,248.42 1189,239.72 1198.4,239.72" fill="#EDB76B"/>
<polygon points="1272.1,261.32 1267.4,252.62 1276.8,252.62" fill="#EDB76B"/>
<line x1="1035.7" y1="233.86" x2="1035.7" y2="242.96" stroke="#D5E99C" stroke-width="1.2" stroke-linecap="butt"/>
<line x1="1031.3" y1="233.86" x2="1040.1" y2="233.86" stroke="#D5E99C" stroke-width="1.2" stroke-linecap="butt"/>
<line x1="1031.3" y1="242.96" x2="1040.1" y2="242.96" stroke="#D5E99C" stroke-width="1.2" stroke-linecap="butt"/>
<line x1="1114.9" y1="231.58" x2="1114.9" y2="240.68" stroke="#D5E99C" stroke-width="1.2" stroke-linecap="butt"/>
<line x1="1110.5" y1="231.58" x2="1119.3" y2="231.58" stroke="#D5E99C" stroke-width="1.2" stroke-linecap="butt"/>
<line x1="1110.5" y1="240.68" x2="1119.3" y2="240.68" stroke="#D5E99C" stroke-width="1.2" stroke-linecap="butt"/>
<line x1="1193.7" y1="241.44" x2="1193.7" y2="250.55" stroke="#D5E99C" stroke-width="1.2" stroke-linecap="butt"/>
<line x1="1189.3" y1="241.44" x2="1198.1" y2="241.44" stroke="#D5E99C" stroke-width="1.2" stroke-linecap="butt"/>
<line x1="1189.3" y1="250.55" x2="1198.1" y2="250.55" stroke="#D5E99C" stroke-width="1.2" stroke-linecap="butt"/>
<line x1="1272.1" y1="246.75" x2="1272.1" y2="260.41" stroke="#D5E99C" stroke-width="1.2" stroke-linecap="butt"/>
<line x1="1267.7" y1="246.75" x2="1276.5" y2="246.75" stroke="#D5E99C" stroke-width="1.2" stroke-linecap="butt"/>
<line x1="1267.7" y1="260.41" x2="1276.5" y2="260.41" stroke="#D5E99C" stroke-width="1.2" stroke-linecap="butt"/>
<polyline points="1035.7,238.41 1114.9,236.13 1193.7,245.99 1272.1,253.58" fill="none" stroke="#D5E99C" stroke-width="2.1" stroke-linejoin="round"/>
<polygon points="1035.7,233.71 1031,242.4 1040.4,242.4" fill="#D5E99C"/>
<polygon points="1114.9,231.43 1110.2,240.13 1119.6,240.13" fill="#D5E99C"/>
<polygon points="1193.7,241.29 1189,249.99 1198.4,249.99" fill="#D5E99C"/>
<polygon points="1272.1,248.88 1267.4,257.58 1276.8,257.58" fill="#D5E99C"/>
<line x1="1035.7" y1="230.82" x2="1035.7" y2="273.31" stroke="#84BEA6" stroke-width="1.2" stroke-linecap="butt"/>
<line x1="1031.3" y1="230.82" x2="1040.1" y2="230.82" stroke="#84BEA6" stroke-width="1.2" stroke-linecap="butt"/>
<line x1="1031.3" y1="273.31" x2="1040.1" y2="273.31" stroke="#84BEA6" stroke-width="1.2" stroke-linecap="butt"/>
<line x1="1114.9" y1="164.06" x2="1114.9" y2="224.75" stroke="#84BEA6" stroke-width="1.2" stroke-linecap="butt"/>
<line x1="1110.5" y1="164.06" x2="1119.3" y2="164.06" stroke="#84BEA6" stroke-width="1.2" stroke-linecap="butt"/>
<line x1="1110.5" y1="224.75" x2="1119.3" y2="224.75" stroke="#84BEA6" stroke-width="1.2" stroke-linecap="butt"/>
<line x1="1193.7" y1="151.92" x2="1193.7" y2="217.17" stroke="#84BEA6" stroke-width="1.2" stroke-linecap="butt"/>
<line x1="1189.3" y1="151.92" x2="1198.1" y2="151.92" stroke="#84BEA6" stroke-width="1.2" stroke-linecap="butt"/>
<line x1="1189.3" y1="217.17" x2="1198.1" y2="217.17" stroke="#84BEA6" stroke-width="1.2" stroke-linecap="butt"/>
<line x1="1272.1" y1="146.61" x2="1272.1" y2="211.86" stroke="#84BEA6" stroke-width="1.2" stroke-linecap="butt"/>
<line x1="1267.7" y1="146.61" x2="1276.5" y2="146.61" stroke="#84BEA6" stroke-width="1.2" stroke-linecap="butt"/>
<line x1="1267.7" y1="211.86" x2="1276.5" y2="211.86" stroke="#84BEA6" stroke-width="1.2" stroke-linecap="butt"/>
<polyline points="1035.7,252.06 1114.9,194.41 1193.7,184.54 1272.1,179.23" fill="none" stroke="#84BEA6" stroke-width="2.1" stroke-linejoin="round"/>
<rect x="1031.1" y="247.46" width="9.2" height="9.2" fill="#84BEA6"/>
<rect x="1110.3" y="189.81" width="9.2" height="9.2" fill="#84BEA6"/>
<rect x="1189.1" y="179.94" width="9.2" height="9.2" fill="#84BEA6"/>
<rect x="1267.5" y="174.63" width="9.2" height="9.2" fill="#84BEA6"/>
<line x1="1035.7" y1="237.8" x2="1035.7" y2="280.29" stroke="#5867AB" stroke-width="1.2" stroke-linecap="butt"/>
<line x1="1031.3" y1="237.8" x2="1040.1" y2="237.8" stroke="#5867AB" stroke-width="1.2" stroke-linecap="butt"/>
<line x1="1031.3" y1="280.29" x2="1040.1" y2="280.29" stroke="#5867AB" stroke-width="1.2" stroke-linecap="butt"/>
<line x1="1114.9" y1="227.64" x2="1114.9" y2="270.88" stroke="#5867AB" stroke-width="1.2" stroke-linecap="butt"/>
<line x1="1110.5" y1="227.64" x2="1119.3" y2="227.64" stroke="#5867AB" stroke-width="1.2" stroke-linecap="butt"/>
<line x1="1110.5" y1="270.88" x2="1119.3" y2="270.88" stroke="#5867AB" stroke-width="1.2" stroke-linecap="butt"/>
<line x1="1193.7" y1="225.36" x2="1193.7" y2="267.84" stroke="#5867AB" stroke-width="1.2" stroke-linecap="butt"/>
<line x1="1189.3" y1="225.36" x2="1198.1" y2="225.36" stroke="#5867AB" stroke-width="1.2" stroke-linecap="butt"/>
<line x1="1189.3" y1="267.84" x2="1198.1" y2="267.84" stroke="#5867AB" stroke-width="1.2" stroke-linecap="butt"/>
<line x1="1272.1" y1="225.97" x2="1272.1" y2="269.21" stroke="#5867AB" stroke-width="1.2" stroke-linecap="butt"/>
<line x1="1267.7" y1="225.97" x2="1276.5" y2="225.97" stroke="#5867AB" stroke-width="1.2" stroke-linecap="butt"/>
<line x1="1267.7" y1="269.21" x2="1276.5" y2="269.21" stroke="#5867AB" stroke-width="1.2" stroke-linecap="butt"/>
<polyline points="1035.7,259.04 1114.9,249.64 1193.7,246.6 1272.1,247.97" fill="none" stroke="#5867AB" stroke-width="2.1" stroke-linejoin="round"/>
<circle cx="1035.7" cy="259.04" r="4.8" fill="#5867AB"/>
<circle cx="1114.9" cy="249.64" r="4.8" fill="#5867AB"/>
<circle cx="1193.7" cy="246.6" r="4.8" fill="#5867AB"/>
<circle cx="1272.1" cy="247.97" r="4.8" fill="#5867AB"/>
<line x1="983.8" y1="70.4" x2="983.8" y2="300.2" stroke="#0a0a0a" stroke-width="2.2" stroke-linecap="butt"/>
<line x1="982.7" y1="299.1" x2="1326" y2="299.1" stroke="#0a0a0a" stroke-width="2.2" stroke-linecap="butt"/>
<line x1="974.8" y1="71.5" x2="983.8" y2="71.5" stroke="#0a0a0a" stroke-width="2.2" stroke-linecap="butt"/>
<text x="970.9" y="77.53" font-size="16.6" font-weight="700" text-anchor="end" fill="#0a0a0a">20</text>
<line x1="974.8" y1="147.4" x2="983.8" y2="147.4" stroke="#0a0a0a" stroke-width="2.2" stroke-linecap="butt"/>
<text x="970.9" y="153.44" font-size="16.6" font-weight="700" text-anchor="end" fill="#0a0a0a">15</text>
<line x1="974.8" y1="223.2" x2="983.8" y2="223.2" stroke="#0a0a0a" stroke-width="2.2" stroke-linecap="butt"/>
<text x="970.9" y="229.23" font-size="16.6" font-weight="700" text-anchor="end" fill="#0a0a0a">10</text>
<line x1="974.8" y1="299.1" x2="983.8" y2="299.1" stroke="#0a0a0a" stroke-width="2.2" stroke-linecap="butt"/>
<text x="970.9" y="305.14" font-size="16.6" font-weight="700" text-anchor="end" fill="#0a0a0a">5</text>
<line x1="1035.7" y1="299.1" x2="1035.7" y2="309.1" stroke="#0a0a0a" stroke-width="2.2" stroke-linecap="butt"/>
<text x="1035.7" y="327.3" font-size="17" font-weight="700" text-anchor="middle" fill="#0a0a0a">Baseline</text>
<line x1="1114.9" y1="299.1" x2="1114.9" y2="309.1" stroke="#0a0a0a" stroke-width="2.2" stroke-linecap="butt"/>
<text x="1114.9" y="327.3" font-size="17" font-weight="700" text-anchor="middle" fill="#0a0a0a">4h</text>
<line x1="1193.7" y1="299.1" x2="1193.7" y2="309.1" stroke="#0a0a0a" stroke-width="2.2" stroke-linecap="butt"/>
<text x="1193.7" y="327.3" font-size="17" font-weight="700" text-anchor="middle" fill="#0a0a0a">24h</text>
<line x1="1272.1" y1="299.1" x2="1272.1" y2="309.1" stroke="#0a0a0a" stroke-width="2.2" stroke-linecap="butt"/>
<text x="1272.1" y="327.3" font-size="17" font-weight="700" text-anchor="middle" fill="#0a0a0a">7d</text>
<line x1="998.3" y1="78.7" x2="1022" y2="78.7" stroke="#5867AB" stroke-width="2.1" stroke-linecap="butt"/>
<circle cx="1010.15" cy="78.7" r="4.8" fill="#5867AB"/>
<text x="1036" y="83.93" font-size="15.6" font-weight="700" text-anchor="start" fill="#0a0a0a">Sham</text>
<line x1="998.3" y1="94.4" x2="1022" y2="94.4" stroke="#84BEA6" stroke-width="2.1" stroke-linecap="butt"/>
<rect x="1005.55" y="89.8" width="9.2" height="9.2" fill="#84BEA6"/>
<text x="1036" y="99.63" font-size="15.6" font-weight="700" text-anchor="start" fill="#0a0a0a">CMD</text>
<line x1="998.3" y1="110.2" x2="1022" y2="110.2" stroke="#D5E99C" stroke-width="2.1" stroke-linecap="butt"/>
<polygon points="1010.15,105.5 1005.45,114.2 1014.85,114.2" fill="#D5E99C"/>
<text x="1036" y="115.43" font-size="15.6" font-weight="700" text-anchor="start" fill="#0a0a0a">SYYQ-L</text>
<line x1="998.3" y1="124.9" x2="1022" y2="124.9" stroke="#EDB76B" stroke-width="2.1" stroke-linecap="butt"/>
<polygon points="1010.15,129.6 1005.45,120.91 1014.85,120.91" fill="#EDB76B"/>
<text x="1036" y="130.13" font-size="15.6" font-weight="700" text-anchor="start" fill="#0a0a0a">SYYQ-M</text>
<line x1="998.3" y1="139.5" x2="1022" y2="139.5" stroke="#DF6148" stroke-width="2.1" stroke-linecap="butt"/>
<polygon points="1010.15,134.8 1014.35,139.5 1010.15,144.2 1005.95,139.5" fill="#DF6148"/>
<text x="1036" y="144.73" font-size="15.6" font-weight="700" text-anchor="start" fill="#0a0a0a">SYYQ-H</text>
<line x1="998.3" y1="152.9" x2="1022" y2="152.9" stroke="#8E0F47" stroke-width="2.1" stroke-linecap="butt"/>
<circle cx="1010.15" cy="152.9" r="4.55" fill="none" stroke="#8E0F47" stroke-width="2.25"/>
<text x="1036" y="158.13" font-size="15.6" font-weight="700" text-anchor="start" fill="#0a0a0a">Nicorandil</text>
<text x="938.5" y="184.8" font-size="19" font-weight="700" text-anchor="middle" fill="#0a0a0a" transform="rotate(-90 938.5 184.8)">Bcl-2(ng/mL)</text>
<polyline points="1277.6,178.8 1285,178.8 1285,248.3 1277.6,248.3" fill="none" stroke="#0a0a0a" stroke-width="1.1" stroke-linejoin="miter"/>
<polyline points="1277.6,248.3 1285,248.3 1285,271.4 1277.6,271.4" fill="none" stroke="#0a0a0a" stroke-width="1.1" stroke-linejoin="miter"/>
<polyline points="1291,177.8 1297.5,177.8 1297.5,255.8 1291,255.8" fill="none" stroke="#0a0a0a" stroke-width="1.1" stroke-linejoin="miter"/>
<polyline points="1305,177.8 1311.6,177.8 1311.6,256.5 1305,256.5" fill="none" stroke="#0a0a0a" stroke-width="1.1" stroke-linejoin="miter"/>
<polyline points="1318.6,178.3 1324.8,178.3 1324.8,272.7 1318.6,272.7" fill="none" stroke="#0a0a0a" stroke-width="1.1" stroke-linejoin="miter"/>
<text x="1281.18" y="212.5" font-size="17" font-weight="700" text-anchor="middle" fill="#0a0a0a" transform="rotate(90 1281.18 212.5)">*</text>
<text x="1298.92" y="214" font-size="12.5" font-weight="700" text-anchor="middle" fill="#0a0a0a" transform="rotate(90 1298.92 214)">##</text>
<text x="1312.12" y="214" font-size="12.5" font-weight="700" text-anchor="middle" fill="#0a0a0a" transform="rotate(90 1312.12 214)">##</text>
<text x="1326.02" y="225.5" font-size="12.5" font-weight="700" text-anchor="middle" fill="#0a0a0a" transform="rotate(90 1326.02 225.5)">##</text>
<text x="1284.52" y="262.8" font-size="11.5" font-weight="400" text-anchor="middle" fill="#0a0a0a" transform="rotate(90 1284.52 262.8)">§</text>
<text transform="translate(1356.3 33.3) scale(1 1.05)" font-size="42" font-weight="400" fill="#0a0a0a">D</text>
<line x1="1479" y1="257.51" x2="1479" y2="285.31" stroke="#8E0F47" stroke-width="1.2" stroke-linecap="butt"/>
<line x1="1474.6" y1="257.51" x2="1483.4" y2="257.51" stroke="#8E0F47" stroke-width="1.2" stroke-linecap="butt"/>
<line x1="1474.6" y1="285.31" x2="1483.4" y2="285.31" stroke="#8E0F47" stroke-width="1.2" stroke-linecap="butt"/>
<line x1="1557.7" y1="204.7" x2="1557.7" y2="265.35" stroke="#8E0F47" stroke-width="1.2" stroke-linecap="butt"/>
<line x1="1553.3" y1="204.7" x2="1562.1" y2="204.7" stroke="#8E0F47" stroke-width="1.2" stroke-linecap="butt"/>
<line x1="1553.3" y1="265.35" x2="1562.1" y2="265.35" stroke="#8E0F47" stroke-width="1.2" stroke-linecap="butt"/>
<line x1="1636.4" y1="181.96" x2="1636.4" y2="247.66" stroke="#8E0F47" stroke-width="1.2" stroke-linecap="butt"/>
<line x1="1632" y1="181.96" x2="1640.8" y2="181.96" stroke="#8E0F47" stroke-width="1.2" stroke-linecap="butt"/>
<line x1="1632" y1="247.66" x2="1640.8" y2="247.66" stroke="#8E0F47" stroke-width="1.2" stroke-linecap="butt"/>
<line x1="1715.4" y1="153.4" x2="1715.4" y2="226.69" stroke="#8E0F47" stroke-width="1.2" stroke-linecap="butt"/>
<line x1="1711" y1="153.4" x2="1719.8" y2="153.4" stroke="#8E0F47" stroke-width="1.2" stroke-linecap="butt"/>
<line x1="1711" y1="226.69" x2="1719.8" y2="226.69" stroke="#8E0F47" stroke-width="1.2" stroke-linecap="butt"/>
<polyline points="1479,258.78 1557.7,235.02 1636.4,214.81 1715.4,190.04" fill="none" stroke="#8E0F47" stroke-width="2.1" stroke-linejoin="round"/>
<circle cx="1479" cy="258.78" r="4.55" fill="none" stroke="#8E0F47" stroke-width="2.25"/>
<circle cx="1557.7" cy="235.02" r="4.55" fill="none" stroke="#8E0F47" stroke-width="2.25"/>
<circle cx="1636.4" cy="214.81" r="4.55" fill="none" stroke="#8E0F47" stroke-width="2.25"/>
<circle cx="1715.4" cy="190.04" r="4.55" fill="none" stroke="#8E0F47" stroke-width="2.25"/>
<line x1="1479" y1="230.98" x2="1479" y2="233.51" stroke="#DF6148" stroke-width="1.2" stroke-linecap="butt"/>
<line x1="1474.6" y1="230.98" x2="1483.4" y2="230.98" stroke="#DF6148" stroke-width="1.2" stroke-linecap="butt"/>
<line x1="1474.6" y1="233.51" x2="1483.4" y2="233.51" stroke="#DF6148" stroke-width="1.2" stroke-linecap="butt"/>
<line x1="1557.7" y1="200.66" x2="1557.7" y2="205.71" stroke="#DF6148" stroke-width="1.2" stroke-linecap="butt"/>
<line x1="1553.3" y1="200.66" x2="1562.1" y2="200.66" stroke="#DF6148" stroke-width="1.2" stroke-linecap="butt"/>
<line x1="1553.3" y1="205.71" x2="1562.1" y2="205.71" stroke="#DF6148" stroke-width="1.2" stroke-linecap="butt"/>
<line x1="1636.4" y1="147.59" x2="1636.4" y2="151.63" stroke="#DF6148" stroke-width="1.2" stroke-linecap="butt"/>
<line x1="1632" y1="147.59" x2="1640.8" y2="147.59" stroke="#DF6148" stroke-width="1.2" stroke-linecap="butt"/>
<line x1="1632" y1="151.63" x2="1640.8" y2="151.63" stroke="#DF6148" stroke-width="1.2" stroke-linecap="butt"/>
<line x1="1715.4" y1="116.26" x2="1715.4" y2="118.78" stroke="#DF6148" stroke-width="1.2" stroke-linecap="butt"/>
<line x1="1711" y1="116.26" x2="1719.8" y2="116.26" stroke="#DF6148" stroke-width="1.2" stroke-linecap="butt"/>
<line x1="1711" y1="118.78" x2="1719.8" y2="118.78" stroke="#DF6148" stroke-width="1.2" stroke-linecap="butt"/>
<polyline points="1479,232.24 1557.7,203.18 1636.4,149.61 1715.4,117.52" fill="none" stroke="#DF6148" stroke-width="2.1" stroke-linejoin="round"/>
<polygon points="1479,227.54 1483.2,232.24 1479,236.94 1474.8,232.24" fill="#DF6148"/>
<polygon points="1557.7,198.48 1561.9,203.18 1557.7,207.88 1553.5,203.18" fill="#DF6148"/>
<polygon points="1636.4,144.91 1640.6,149.61 1636.4,154.31 1632.2,149.61" fill="#DF6148"/>
<polygon points="1715.4,112.82 1719.6,117.52 1715.4,122.22 1711.2,117.52" fill="#DF6148"/>
<line x1="1479" y1="230.22" x2="1479" y2="234.27" stroke="#EDB76B" stroke-width="1.2" stroke-linecap="butt"/>
<line x1="1474.6" y1="230.22" x2="1483.4" y2="230.22" stroke="#EDB76B" stroke-width="1.2" stroke-linecap="butt"/>
<line x1="1474.6" y1="234.27" x2="1483.4" y2="234.27" stroke="#EDB76B" stroke-width="1.2" stroke-linecap="butt"/>
<line x1="1557.7" y1="202.68" x2="1557.7" y2="206.72" stroke="#EDB76B" stroke-width="1.2" stroke-linecap="butt"/>
<line x1="1553.3" y1="202.68" x2="1562.1" y2="202.68" stroke="#EDB76B" stroke-width="1.2" stroke-linecap="butt"/>
<line x1="1553.3" y1="206.72" x2="1562.1" y2="206.72" stroke="#EDB76B" stroke-width="1.2" stroke-linecap="butt"/>
<line x1="1636.4" y1="187.52" x2="1636.4" y2="192.57" stroke="#EDB76B" stroke-width="1.2" stroke-linecap="butt"/>
<line x1="1632" y1="187.52" x2="1640.8" y2="187.52" stroke="#EDB76B" stroke-width="1.2" stroke-linecap="butt"/>
<line x1="1632" y1="192.57" x2="1640.8" y2="192.57" stroke="#EDB76B" stroke-width="1.2" stroke-linecap="butt"/>
<line x1="1715.4" y1="149.61" x2="1715.4" y2="153.66" stroke="#EDB76B" stroke-width="1.2" stroke-linecap="butt"/>
<line x1="1711" y1="149.61" x2="1719.8" y2="149.61" stroke="#EDB76B" stroke-width="1.2" stroke-linecap="butt"/>
<line x1="1711" y1="153.66" x2="1719.8" y2="153.66" stroke="#EDB76B" stroke-width="1.2" stroke-linecap="butt"/>
<polyline points="1479,232.24 1557.7,204.7 1636.4,190.04 1715.4,151.63" fill="none" stroke="#EDB76B" stroke-width="2.1" stroke-linejoin="round"/>
<polygon points="1479,236.94 1474.3,228.25 1483.7,228.25" fill="#EDB76B"/>
<polygon points="1557.7,209.4 1553,200.71 1562.4,200.71" fill="#EDB76B"/>
<polygon points="1636.4,194.74 1631.7,186.05 1641.1,186.05" fill="#EDB76B"/>
<polygon points="1715.4,156.33 1710.7,147.64 1720.1,147.64" fill="#EDB76B"/>
<line x1="1479" y1="230.98" x2="1479" y2="235.02" stroke="#D5E99C" stroke-width="1.2" stroke-linecap="butt"/>
<line x1="1474.6" y1="230.98" x2="1483.4" y2="230.98" stroke="#D5E99C" stroke-width="1.2" stroke-linecap="butt"/>
<line x1="1474.6" y1="235.02" x2="1483.4" y2="235.02" stroke="#D5E99C" stroke-width="1.2" stroke-linecap="butt"/>
<line x1="1557.7" y1="208.49" x2="1557.7" y2="214.56" stroke="#D5E99C" stroke-width="1.2" stroke-linecap="butt"/>
<line x1="1553.3" y1="208.49" x2="1562.1" y2="208.49" stroke="#D5E99C" stroke-width="1.2" stroke-linecap="butt"/>
<line x1="1553.3" y1="214.56" x2="1562.1" y2="214.56" stroke="#D5E99C" stroke-width="1.2" stroke-linecap="butt"/>
<line x1="1636.4" y1="203.69" x2="1636.4" y2="207.73" stroke="#D5E99C" stroke-width="1.2" stroke-linecap="butt"/>
<line x1="1632" y1="203.69" x2="1640.8" y2="203.69" stroke="#D5E99C" stroke-width="1.2" stroke-linecap="butt"/>
<line x1="1632" y1="207.73" x2="1640.8" y2="207.73" stroke="#D5E99C" stroke-width="1.2" stroke-linecap="butt"/>
<line x1="1715.4" y1="202.68" x2="1715.4" y2="208.74" stroke="#D5E99C" stroke-width="1.2" stroke-linecap="butt"/>
<line x1="1711" y1="202.68" x2="1719.8" y2="202.68" stroke="#D5E99C" stroke-width="1.2" stroke-linecap="butt"/>
<line x1="1711" y1="208.74" x2="1719.8" y2="208.74" stroke="#D5E99C" stroke-width="1.2" stroke-linecap="butt"/>
<polyline points="1479,233 1557.7,211.52 1636.4,205.71 1715.4,205.71" fill="none" stroke="#D5E99C" stroke-width="2.1" stroke-linejoin="round"/>
<polygon points="1479,228.3 1474.3,237 1483.7,237" fill="#D5E99C"/>
<polygon points="1557.7,206.82 1553,215.52 1562.4,215.52" fill="#D5E99C"/>
<polygon points="1636.4,201.01 1631.7,209.71 1641.1,209.71" fill="#D5E99C"/>
<polygon points="1715.4,201.01 1710.7,209.71 1720.1,209.71" fill="#D5E99C"/>
<line x1="1479" y1="234.27" x2="1479" y2="284.81" stroke="#84BEA6" stroke-width="1.2" stroke-linecap="butt"/>
<line x1="1474.6" y1="234.27" x2="1483.4" y2="234.27" stroke="#84BEA6" stroke-width="1.2" stroke-linecap="butt"/>
<line x1="1474.6" y1="284.81" x2="1483.4" y2="284.81" stroke="#84BEA6" stroke-width="1.2" stroke-linecap="butt"/>
<line x1="1557.7" y1="210.26" x2="1557.7" y2="265.85" stroke="#84BEA6" stroke-width="1.2" stroke-linecap="butt"/>
<line x1="1553.3" y1="210.26" x2="1562.1" y2="210.26" stroke="#84BEA6" stroke-width="1.2" stroke-linecap="butt"/>
<line x1="1553.3" y1="265.85" x2="1562.1" y2="265.85" stroke="#84BEA6" stroke-width="1.2" stroke-linecap="butt"/>
<line x1="1636.4" y1="188.78" x2="1636.4" y2="254.48" stroke="#84BEA6" stroke-width="1.2" stroke-linecap="butt"/>
<line x1="1632" y1="188.78" x2="1640.8" y2="188.78" stroke="#84BEA6" stroke-width="1.2" stroke-linecap="butt"/>
<line x1="1632" y1="254.48" x2="1640.8" y2="254.48" stroke="#84BEA6" stroke-width="1.2" stroke-linecap="butt"/>
<line x1="1715.4" y1="169.07" x2="1715.4" y2="239.83" stroke="#84BEA6" stroke-width="1.2" stroke-linecap="butt"/>
<line x1="1711" y1="169.07" x2="1719.8" y2="169.07" stroke="#84BEA6" stroke-width="1.2" stroke-linecap="butt"/>
<line x1="1711" y1="239.83" x2="1719.8" y2="239.83" stroke="#84BEA6" stroke-width="1.2" stroke-linecap="butt"/>
<polyline points="1479,259.54 1557.7,238.06 1636.4,221.63 1715.4,204.45" fill="none" stroke="#84BEA6" stroke-width="2.1" stroke-linejoin="round"/>
<rect x="1474.4" y="254.94" width="9.2" height="9.2" fill="#84BEA6"/>
<rect x="1553.1" y="233.46" width="9.2" height="9.2" fill="#84BEA6"/>
<rect x="1631.8" y="217.03" width="9.2" height="9.2" fill="#84BEA6"/>
<rect x="1710.8" y="199.85" width="9.2" height="9.2" fill="#84BEA6"/>
<line x1="1479" y1="235.02" x2="1479" y2="285.56" stroke="#5867AB" stroke-width="1.2" stroke-linecap="butt"/>
<line x1="1474.6" y1="235.02" x2="1483.4" y2="235.02" stroke="#5867AB" stroke-width="1.2" stroke-linecap="butt"/>
<line x1="1474.6" y1="285.56" x2="1483.4" y2="285.56" stroke="#5867AB" stroke-width="1.2" stroke-linecap="butt"/>
<line x1="1557.7" y1="235.53" x2="1557.7" y2="286.07" stroke="#5867AB" stroke-width="1.2" stroke-linecap="butt"/>
<line x1="1553.3" y1="235.53" x2="1562.1" y2="235.53" stroke="#5867AB" stroke-width="1.2" stroke-linecap="butt"/>
<line x1="1553.3" y1="286.07" x2="1562.1" y2="286.07" stroke="#5867AB" stroke-width="1.2" stroke-linecap="butt"/>
<line x1="1636.4" y1="232.24" x2="1636.4" y2="282.78" stroke="#5867AB" stroke-width="1.2" stroke-linecap="butt"/>
<line x1="1632" y1="232.24" x2="1640.8" y2="232.24" stroke="#5867AB" stroke-width="1.2" stroke-linecap="butt"/>
<line x1="1632" y1="282.78" x2="1640.8" y2="282.78" stroke="#5867AB" stroke-width="1.2" stroke-linecap="butt"/>
<line x1="1715.4" y1="235.02" x2="1715.4" y2="285.56" stroke="#5867AB" stroke-width="1.2" stroke-linecap="butt"/>
<line x1="1711" y1="235.02" x2="1719.8" y2="235.02" stroke="#5867AB" stroke-width="1.2" stroke-linecap="butt"/>
<line x1="1711" y1="285.56" x2="1719.8" y2="285.56" stroke="#5867AB" stroke-width="1.2" stroke-linecap="butt"/>
<polyline points="1479,260.29 1557.7,260.8 1636.4,257.51 1715.4,260.29" fill="none" stroke="#5867AB" stroke-width="2.1" stroke-linejoin="round"/>
<circle cx="1479" cy="260.29" r="4.8" fill="#5867AB"/>
<circle cx="1557.7" cy="260.8" r="4.8" fill="#5867AB"/>
<circle cx="1636.4" cy="257.51" r="4.8" fill="#5867AB"/>
<circle cx="1715.4" cy="260.29" r="4.8" fill="#5867AB"/>
<line x1="1426.5" y1="69.6" x2="1426.5" y2="300.2" stroke="#0a0a0a" stroke-width="2.2" stroke-linecap="butt"/>
<line x1="1425.4" y1="299.1" x2="1769.2" y2="299.1" stroke="#0a0a0a" stroke-width="2.2" stroke-linecap="butt"/>
<line x1="1417.5" y1="109.2" x2="1426.5" y2="109.2" stroke="#0a0a0a" stroke-width="2.2" stroke-linecap="butt"/>
<text x="1413.6" y="115.23" font-size="16.6" font-weight="700" text-anchor="end" fill="#0a0a0a">120</text>
<line x1="1417.5" y1="185.3" x2="1426.5" y2="185.3" stroke="#0a0a0a" stroke-width="2.2" stroke-linecap="butt"/>
<text x="1413.6" y="191.34" font-size="16.6" font-weight="700" text-anchor="end" fill="#0a0a0a">90</text>
<line x1="1417.5" y1="260.8" x2="1426.5" y2="260.8" stroke="#0a0a0a" stroke-width="2.2" stroke-linecap="butt"/>
<text x="1413.6" y="266.84" font-size="16.6" font-weight="700" text-anchor="end" fill="#0a0a0a">60</text>
<line x1="1479" y1="299.1" x2="1479" y2="309.1" stroke="#0a0a0a" stroke-width="2.2" stroke-linecap="butt"/>
<text x="1479" y="327.7" font-size="17" font-weight="700" text-anchor="middle" fill="#0a0a0a">Baseline</text>
<line x1="1557.7" y1="299.1" x2="1557.7" y2="309.1" stroke="#0a0a0a" stroke-width="2.2" stroke-linecap="butt"/>
<text x="1557.7" y="327.7" font-size="17" font-weight="700" text-anchor="middle" fill="#0a0a0a">4h</text>
<line x1="1636.4" y1="299.1" x2="1636.4" y2="309.1" stroke="#0a0a0a" stroke-width="2.2" stroke-linecap="butt"/>
<text x="1636.4" y="327.7" font-size="17" font-weight="700" text-anchor="middle" fill="#0a0a0a">24h</text>
<line x1="1715.4" y1="299.1" x2="1715.4" y2="309.1" stroke="#0a0a0a" stroke-width="2.2" stroke-linecap="butt"/>
<text x="1715.4" y="327.7" font-size="17" font-weight="700" text-anchor="middle" fill="#0a0a0a">7d</text>
<line x1="1441.2" y1="85.3" x2="1465" y2="85.3" stroke="#5867AB" stroke-width="2.1" stroke-linecap="butt"/>
<circle cx="1453.1" cy="85.3" r="4.8" fill="#5867AB"/>
<text x="1478.5" y="90.53" font-size="15.6" font-weight="700" text-anchor="start" fill="#0a0a0a">Sham</text>
<line x1="1441.2" y1="99" x2="1465" y2="99" stroke="#84BEA6" stroke-width="2.1" stroke-linecap="butt"/>
<rect x="1448.5" y="94.4" width="9.2" height="9.2" fill="#84BEA6"/>
<text x="1478.5" y="104.23" font-size="15.6" font-weight="700" text-anchor="start" fill="#0a0a0a">CMD</text>
<line x1="1441.2" y1="112.6" x2="1465" y2="112.6" stroke="#D5E99C" stroke-width="2.1" stroke-linecap="butt"/>
<polygon points="1453.1,107.9 1448.4,116.59 1457.8,116.59" fill="#D5E99C"/>
<text x="1478.5" y="117.83" font-size="15.6" font-weight="700" text-anchor="start" fill="#0a0a0a">SYYQ-L</text>
<line x1="1441.2" y1="126" x2="1465" y2="126" stroke="#EDB76B" stroke-width="2.1" stroke-linecap="butt"/>
<polygon points="1453.1,130.7 1448.4,122 1457.8,122" fill="#EDB76B"/>
<text x="1478.5" y="131.23" font-size="15.6" font-weight="700" text-anchor="start" fill="#0a0a0a">SYYQ-M</text>
<line x1="1441.2" y1="139.4" x2="1465" y2="139.4" stroke="#DF6148" stroke-width="2.1" stroke-linecap="butt"/>
<polygon points="1453.1,134.7 1457.3,139.4 1453.1,144.1 1448.9,139.4" fill="#DF6148"/>
<text x="1478.5" y="144.63" font-size="15.6" font-weight="700" text-anchor="start" fill="#0a0a0a">SYYQ-H</text>
<line x1="1441.2" y1="153.1" x2="1465" y2="153.1" stroke="#8E0F47" stroke-width="2.1" stroke-linecap="butt"/>
<circle cx="1453.1" cy="153.1" r="4.55" fill="none" stroke="#8E0F47" stroke-width="2.25"/>
<text x="1478.5" y="158.33" font-size="15.6" font-weight="700" text-anchor="start" fill="#0a0a0a">Nicorandil</text>
<text x="1373.5" y="184.8" font-size="19" font-weight="700" text-anchor="middle" fill="#0a0a0a" transform="rotate(-90 1373.5 184.8)">VEGF(ng/L)</text>
<polyline points="1722.7,117.5 1729.6,117.5 1729.6,204.3 1722.7,204.3" fill="none" stroke="#0a0a0a" stroke-width="1.1" stroke-linejoin="miter"/>
<polyline points="1722.7,204.3 1729.6,204.3 1729.6,260.4 1722.7,260.4" fill="none" stroke="#0a0a0a" stroke-width="1.1" stroke-linejoin="miter"/>
<polyline points="1745.9,117.5 1752.7,117.5 1752.7,204.8 1745.9,204.8" fill="none" stroke="#0a0a0a" stroke-width="1.1" stroke-linejoin="miter"/>
<text x="1731.15" y="159.9" font-size="13" font-weight="700" text-anchor="middle" fill="#0a0a0a" transform="rotate(90 1731.15 159.9)">#</text>
<text x="1755.19" y="161.3" font-size="14" font-weight="700" text-anchor="middle" fill="#0a0a0a" transform="rotate(90 1755.19 161.3)" stroke="#0a0a0a" stroke-width="0.45">†</text>
<text x="1725.88" y="232.8" font-size="17" font-weight="700" text-anchor="middle" fill="#0a0a0a" transform="rotate(90 1725.88 232.8)">*</text>
<text transform="translate(18.55 429.5) scale(1 1.05)" font-size="42" font-weight="400" fill="#0a0a0a">E</text>
<line x1="196" y1="530.66" x2="196" y2="623" stroke="#8E0F47" stroke-width="1.2" stroke-linecap="butt"/>
<line x1="191.6" y1="530.66" x2="200.4" y2="530.66" stroke="#8E0F47" stroke-width="1.2" stroke-linecap="butt"/>
<line x1="191.6" y1="623" x2="200.4" y2="623" stroke="#8E0F47" stroke-width="1.2" stroke-linecap="butt"/>
<line x1="274.4" y1="531.8" x2="274.4" y2="550.04" stroke="#8E0F47" stroke-width="1.2" stroke-linecap="butt"/>
<line x1="270" y1="531.8" x2="278.8" y2="531.8" stroke="#8E0F47" stroke-width="1.2" stroke-linecap="butt"/>
<line x1="270" y1="550.04" x2="278.8" y2="550.04" stroke="#8E0F47" stroke-width="1.2" stroke-linecap="butt"/>
<line x1="353.6" y1="504.44" x2="353.6" y2="522.68" stroke="#8E0F47" stroke-width="1.2" stroke-linecap="butt"/>
<line x1="349.2" y1="504.44" x2="358" y2="504.44" stroke="#8E0F47" stroke-width="1.2" stroke-linecap="butt"/>
<line x1="349.2" y1="522.68" x2="358" y2="522.68" stroke="#8E0F47" stroke-width="1.2" stroke-linecap="butt"/>
<line x1="432.4" y1="487.34" x2="432.4" y2="496.46" stroke="#8E0F47" stroke-width="1.2" stroke-linecap="butt"/>
<line x1="428" y1="487.34" x2="436.8" y2="487.34" stroke="#8E0F47" stroke-width="1.2" stroke-linecap="butt"/>
<line x1="428" y1="496.46" x2="436.8" y2="496.46" stroke="#8E0F47" stroke-width="1.2" stroke-linecap="butt"/>
<polyline points="196,576.26 274.4,540.92 353.6,513.56 432.4,491.9" fill="none" stroke="#8E0F47" stroke-width="2.1" stroke-linejoin="round"/>
<circle cx="196" cy="576.26" r="4.55" fill="none" stroke="#8E0F47" stroke-width="2.25"/>
<circle cx="274.4" cy="540.92" r="4.55" fill="none" stroke="#8E0F47" stroke-width="2.25"/>
<circle cx="353.6" cy="513.56" r="4.55" fill="none" stroke="#8E0F47" stroke-width="2.25"/>
<circle cx="432.4" cy="491.9" r="4.55" fill="none" stroke="#8E0F47" stroke-width="2.25"/>
<line x1="196" y1="586.52" x2="196" y2="595.64" stroke="#DF6148" stroke-width="1.2" stroke-linecap="butt"/>
<line x1="191.6" y1="586.52" x2="200.4" y2="586.52" stroke="#DF6148" stroke-width="1.2" stroke-linecap="butt"/>
<line x1="191.6" y1="595.64" x2="200.4" y2="595.64" stroke="#DF6148" stroke-width="1.2" stroke-linecap="butt"/>
<line x1="274.4" y1="529.52" x2="274.4" y2="545.48" stroke="#DF6148" stroke-width="1.2" stroke-linecap="butt"/>
<line x1="270" y1="529.52" x2="278.8" y2="529.52" stroke="#DF6148" stroke-width="1.2" stroke-linecap="butt"/>
<line x1="270" y1="545.48" x2="278.8" y2="545.48" stroke="#DF6148" stroke-width="1.2" stroke-linecap="butt"/>
<line x1="353.6" y1="471.38" x2="353.6" y2="482.78" stroke="#DF6148" stroke-width="1.2" stroke-linecap="butt"/>
<line x1="349.2" y1="471.38" x2="358" y2="471.38" stroke="#DF6148" stroke-width="1.2" stroke-linecap="butt"/>
<line x1="349.2" y1="482.78" x2="358" y2="482.78" stroke="#DF6148" stroke-width="1.2" stroke-linecap="butt"/>
<line x1="432.4" y1="457.7" x2="432.4" y2="480.5" stroke="#DF6148" stroke-width="1.2" stroke-linecap="butt"/>
<line x1="428" y1="457.7" x2="436.8" y2="457.7" stroke="#DF6148" stroke-width="1.2" stroke-linecap="butt"/>
<line x1="428" y1="480.5" x2="436.8" y2="480.5" stroke="#DF6148" stroke-width="1.2" stroke-linecap="butt"/>
<polyline points="196,591.08 274.4,537.5 353.6,477.08 432.4,469.1" fill="none" stroke="#DF6148" stroke-width="2.1" stroke-linejoin="round"/>
<polygon points="196,586.38 200.2,591.08 196,595.78 191.8,591.08" fill="#DF6148"/>
<polygon points="274.4,532.8 278.6,537.5 274.4,542.2 270.2,537.5" fill="#DF6148"/>
<polygon points="353.6,472.38 357.8,477.08 353.6,481.78 349.4,477.08" fill="#DF6148"/>
<polygon points="432.4,464.4 436.6,469.1 432.4,473.8 428.2,469.1" fill="#DF6148"/>
<line x1="196" y1="551.18" x2="196" y2="607.04" stroke="#EDB76B" stroke-width="1.2" stroke-linecap="butt"/>
<line x1="191.6" y1="551.18" x2="200.4" y2="551.18" stroke="#EDB76B" stroke-width="1.2" stroke-linecap="butt"/>
<line x1="191.6" y1="607.04" x2="200.4" y2="607.04" stroke="#EDB76B" stroke-width="1.2" stroke-linecap="butt"/>
<line x1="274.4" y1="555.74" x2="274.4" y2="564.86" stroke="#EDB76B" stroke-width="1.2" stroke-linecap="butt"/>
<line x1="270" y1="555.74" x2="278.8" y2="555.74" stroke="#EDB76B" stroke-width="1.2" stroke-linecap="butt"/>
<line x1="270" y1="564.86" x2="278.8" y2="564.86" stroke="#EDB76B" stroke-width="1.2" stroke-linecap="butt"/>
<line x1="353.6" y1="505.58" x2="353.6" y2="519.26" stroke="#EDB76B" stroke-width="1.2" stroke-linecap="butt"/>
<line x1="349.2" y1="505.58" x2="358" y2="505.58" stroke="#EDB76B" stroke-width="1.2" stroke-linecap="butt"/>
<line x1="349.2" y1="519.26" x2="358" y2="519.26" stroke="#EDB76B" stroke-width="1.2" stroke-linecap="butt"/>
<line x1="432.4" y1="482.78" x2="432.4" y2="505.58" stroke="#EDB76B" stroke-width="1.2" stroke-linecap="butt"/>
<line x1="428" y1="482.78" x2="436.8" y2="482.78" stroke="#EDB76B" stroke-width="1.2" stroke-linecap="butt"/>
<line x1="428" y1="505.58" x2="436.8" y2="505.58" stroke="#EDB76B" stroke-width="1.2" stroke-linecap="butt"/>
<polyline points="196,578.54 274.4,560.3 353.6,512.42 432.4,494.18" fill="none" stroke="#EDB76B" stroke-width="2.1" stroke-linejoin="round"/>
<polygon points="196,583.24 191.3,574.54 200.7,574.54" fill="#EDB76B"/>
<polygon points="274.4,565 269.7,556.3 279.1,556.3" fill="#EDB76B"/>
<polygon points="353.6,517.12 348.9,508.42 358.3,508.42" fill="#EDB76B"/>
<polygon points="432.4,498.88 427.7,490.18 437.1,490.18" fill="#EDB76B"/>
<line x1="196" y1="589.94" x2="196" y2="599.06" stroke="#D5E99C" stroke-width="1.2" stroke-linecap="butt"/>
<line x1="191.6" y1="589.94" x2="200.4" y2="589.94" stroke="#D5E99C" stroke-width="1.2" stroke-linecap="butt"/>
<line x1="191.6" y1="599.06" x2="200.4" y2="599.06" stroke="#D5E99C" stroke-width="1.2" stroke-linecap="butt"/>
<line x1="274.4" y1="547.76" x2="274.4" y2="561.44" stroke="#D5E99C" stroke-width="1.2" stroke-linecap="butt"/>
<line x1="270" y1="547.76" x2="278.8" y2="547.76" stroke="#D5E99C" stroke-width="1.2" stroke-linecap="butt"/>
<line x1="270" y1="561.44" x2="278.8" y2="561.44" stroke="#D5E99C" stroke-width="1.2" stroke-linecap="butt"/>
<line x1="353.6" y1="521.54" x2="353.6" y2="530.66" stroke="#D5E99C" stroke-width="1.2" stroke-linecap="butt"/>
<line x1="349.2" y1="521.54" x2="358" y2="521.54" stroke="#D5E99C" stroke-width="1.2" stroke-linecap="butt"/>
<line x1="349.2" y1="530.66" x2="358" y2="530.66" stroke="#D5E99C" stroke-width="1.2" stroke-linecap="butt"/>
<line x1="432.4" y1="519.26" x2="432.4" y2="530.66" stroke="#D5E99C" stroke-width="1.2" stroke-linecap="butt"/>
<line x1="428" y1="519.26" x2="436.8" y2="519.26" stroke="#D5E99C" stroke-width="1.2" stroke-linecap="butt"/>
<line x1="428" y1="530.66" x2="436.8" y2="530.66" stroke="#D5E99C" stroke-width="1.2" stroke-linecap="butt"/>
<polyline points="196,594.5 274.4,554.6 353.6,526.1 432.4,524.96" fill="none" stroke="#D5E99C" stroke-width="2.1" stroke-linejoin="round"/>
<polygon points="196,589.8 191.3,598.5 200.7,598.5" fill="#D5E99C"/>
<polygon points="274.4,549.9 269.7,558.6 279.1,558.6" fill="#D5E99C"/>
<polygon points="353.6,521.4 348.9,530.1 358.3,530.1" fill="#D5E99C"/>
<polygon points="432.4,520.26 427.7,528.96 437.1,528.96" fill="#D5E99C"/>
<line x1="196" y1="588.8" x2="196" y2="600.2" stroke="#84BEA6" stroke-width="1.2" stroke-linecap="butt"/>
<line x1="191.6" y1="588.8" x2="200.4" y2="588.8" stroke="#84BEA6" stroke-width="1.2" stroke-linecap="butt"/>
<line x1="191.6" y1="600.2" x2="200.4" y2="600.2" stroke="#84BEA6" stroke-width="1.2" stroke-linecap="butt"/>
<line x1="274.4" y1="552.89" x2="274.4" y2="592.22" stroke="#84BEA6" stroke-width="1.2" stroke-linecap="butt"/>
<line x1="270" y1="552.89" x2="278.8" y2="552.89" stroke="#84BEA6" stroke-width="1.2" stroke-linecap="butt"/>
<line x1="270" y1="592.22" x2="278.8" y2="592.22" stroke="#84BEA6" stroke-width="1.2" stroke-linecap="butt"/>
<line x1="353.6" y1="544.34" x2="353.6" y2="551.18" stroke="#84BEA6" stroke-width="1.2" stroke-linecap="butt"/>
<line x1="349.2" y1="544.34" x2="358" y2="544.34" stroke="#84BEA6" stroke-width="1.2" stroke-linecap="butt"/>
<line x1="349.2" y1="551.18" x2="358" y2="551.18" stroke="#84BEA6" stroke-width="1.2" stroke-linecap="butt"/>
<line x1="432.4" y1="532.94" x2="432.4" y2="539.78" stroke="#84BEA6" stroke-width="1.2" stroke-linecap="butt"/>
<line x1="428" y1="532.94" x2="436.8" y2="532.94" stroke="#84BEA6" stroke-width="1.2" stroke-linecap="butt"/>
<line x1="428" y1="539.78" x2="436.8" y2="539.78" stroke="#84BEA6" stroke-width="1.2" stroke-linecap="butt"/>
<polyline points="196,594.5 274.4,572.84 353.6,547.76 432.4,536.36" fill="none" stroke="#84BEA6" stroke-width="2.1" stroke-linejoin="round"/>
<rect x="191.4" y="589.9" width="9.2" height="9.2" fill="#84BEA6"/>
<rect x="269.8" y="568.24" width="9.2" height="9.2" fill="#84BEA6"/>
<rect x="349" y="543.16" width="9.2" height="9.2" fill="#84BEA6"/>
<rect x="427.8" y="531.76" width="9.2" height="9.2" fill="#84BEA6"/>
<line x1="196" y1="588.8" x2="196" y2="597.92" stroke="#5867AB" stroke-width="1.2" stroke-linecap="butt"/>
<line x1="191.6" y1="588.8" x2="200.4" y2="588.8" stroke="#5867AB" stroke-width="1.2" stroke-linecap="butt"/>
<line x1="191.6" y1="597.92" x2="200.4" y2="597.92" stroke="#5867AB" stroke-width="1.2" stroke-linecap="butt"/>
<line x1="274.4" y1="587.09" x2="274.4" y2="597.35" stroke="#5867AB" stroke-width="1.2" stroke-linecap="butt"/>
<line x1="270" y1="587.09" x2="278.8" y2="587.09" stroke="#5867AB" stroke-width="1.2" stroke-linecap="butt"/>
<line x1="270" y1="597.35" x2="278.8" y2="597.35" stroke="#5867AB" stroke-width="1.2" stroke-linecap="butt"/>
<line x1="353.6" y1="589.37" x2="353.6" y2="599.63" stroke="#5867AB" stroke-width="1.2" stroke-linecap="butt"/>
<line x1="349.2" y1="589.37" x2="358" y2="589.37" stroke="#5867AB" stroke-width="1.2" stroke-linecap="butt"/>
<line x1="349.2" y1="599.63" x2="358" y2="599.63" stroke="#5867AB" stroke-width="1.2" stroke-linecap="butt"/>
<polyline points="196,593.36 274.4,592.22 353.6,594.5 432.4,593.36" fill="none" stroke="#5867AB" stroke-width="2.1" stroke-linejoin="round"/>
<circle cx="196" cy="593.36" r="4.8" fill="#5867AB"/>
<circle cx="274.4" cy="592.22" r="4.8" fill="#5867AB"/>
<circle cx="353.6" cy="594.5" r="4.8" fill="#5867AB"/>
<circle cx="432.4" cy="593.36" r="4.8" fill="#5867AB"/>
<line x1="143.8" y1="433.8" x2="143.8" y2="664" stroke="#0a0a0a" stroke-width="2.2" stroke-linecap="butt"/>
<line x1="142.7" y1="662.9" x2="485.6" y2="662.9" stroke="#0a0a0a" stroke-width="2.2" stroke-linecap="butt"/>
<line x1="134.8" y1="434.9" x2="143.8" y2="434.9" stroke="#0a0a0a" stroke-width="2.2" stroke-linecap="butt"/>
<text x="130.9" y="440.94" font-size="16.6" font-weight="700" text-anchor="end" fill="#0a0a0a">350</text>
<line x1="134.8" y1="492.1" x2="143.8" y2="492.1" stroke="#0a0a0a" stroke-width="2.2" stroke-linecap="butt"/>
<text x="130.9" y="498.14" font-size="16.6" font-weight="700" text-anchor="end" fill="#0a0a0a">300</text>
<line x1="134.8" y1="549" x2="143.8" y2="549" stroke="#0a0a0a" stroke-width="2.2" stroke-linecap="butt"/>
<text x="130.9" y="555.03" font-size="16.6" font-weight="700" text-anchor="end" fill="#0a0a0a">250</text>
<line x1="134.8" y1="606" x2="143.8" y2="606" stroke="#0a0a0a" stroke-width="2.2" stroke-linecap="butt"/>
<text x="130.9" y="612.03" font-size="16.6" font-weight="700" text-anchor="end" fill="#0a0a0a">200</text>
<line x1="134.8" y1="662.9" x2="143.8" y2="662.9" stroke="#0a0a0a" stroke-width="2.2" stroke-linecap="butt"/>
<text x="130.9" y="668.93" font-size="16.6" font-weight="700" text-anchor="end" fill="#0a0a0a">150</text>
<line x1="196" y1="662.9" x2="196" y2="672.9" stroke="#0a0a0a" stroke-width="2.2" stroke-linecap="butt"/>
<text x="196" y="691" font-size="17" font-weight="700" text-anchor="middle" fill="#0a0a0a">Baseline</text>
<line x1="274.4" y1="662.9" x2="274.4" y2="672.9" stroke="#0a0a0a" stroke-width="2.2" stroke-linecap="butt"/>
<text x="274.4" y="691" font-size="17" font-weight="700" text-anchor="middle" fill="#0a0a0a">4h</text>
<line x1="353.6" y1="662.9" x2="353.6" y2="672.9" stroke="#0a0a0a" stroke-width="2.2" stroke-linecap="butt"/>
<text x="353.6" y="691" font-size="17" font-weight="700" text-anchor="middle" fill="#0a0a0a">24h</text>
<line x1="432.4" y1="662.9" x2="432.4" y2="672.9" stroke="#0a0a0a" stroke-width="2.2" stroke-linecap="butt"/>
<text x="432.4" y="691" font-size="17" font-weight="700" text-anchor="middle" fill="#0a0a0a">7d</text>
<line x1="158.5" y1="449.6" x2="182.5" y2="449.6" stroke="#5867AB" stroke-width="2.1" stroke-linecap="butt"/>
<circle cx="170.5" cy="449.6" r="4.8" fill="#5867AB"/>
<text x="196" y="454.83" font-size="15.6" font-weight="700" text-anchor="start" fill="#0a0a0a">Sham</text>
<line x1="158.5" y1="463.4" x2="182.5" y2="463.4" stroke="#84BEA6" stroke-width="2.1" stroke-linecap="butt"/>
<rect x="165.9" y="458.8" width="9.2" height="9.2" fill="#84BEA6"/>
<text x="196" y="468.63" font-size="15.6" font-weight="700" text-anchor="start" fill="#0a0a0a">CMD</text>
<line x1="158.5" y1="477.4" x2="182.5" y2="477.4" stroke="#D5E99C" stroke-width="2.1" stroke-linecap="butt"/>
<polygon points="170.5,472.7 165.8,481.39 175.2,481.39" fill="#D5E99C"/>
<text x="196" y="482.63" font-size="15.6" font-weight="700" text-anchor="start" fill="#0a0a0a">SYYQ-L</text>
<line x1="158.5" y1="491.5" x2="182.5" y2="491.5" stroke="#EDB76B" stroke-width="2.1" stroke-linecap="butt"/>
<polygon points="170.5,496.2 165.8,487.5 175.2,487.5" fill="#EDB76B"/>
<text x="196" y="496.73" font-size="15.6" font-weight="700" text-anchor="start" fill="#0a0a0a">SYYQ-M</text>
<line x1="158.5" y1="505" x2="182.5" y2="505" stroke="#DF6148" stroke-width="2.1" stroke-linecap="butt"/>
<polygon points="170.5,500.3 174.7,505 170.5,509.7 166.3,505" fill="#DF6148"/>
<text x="196" y="510.23" font-size="15.6" font-weight="700" text-anchor="start" fill="#0a0a0a">SYYQ-H</text>
<line x1="158.5" y1="518.5" x2="182.5" y2="518.5" stroke="#8E0F47" stroke-width="2.1" stroke-linecap="butt"/>
<circle cx="170.5" cy="518.5" r="4.55" fill="none" stroke="#8E0F47" stroke-width="2.25"/>
<text x="196" y="523.73" font-size="15.6" font-weight="700" text-anchor="start" fill="#0a0a0a">Nicorandil</text>
<text x="92" y="548" font-size="19" font-weight="700" text-anchor="middle" fill="#0a0a0a" transform="rotate(-90 92 548)">FGF(ng/L)</text>
<polyline points="440.9,467.4 447.5,467.4 447.5,536.8 440.9,536.8" fill="none" stroke="#0a0a0a" stroke-width="1.1" stroke-linejoin="miter"/>
<polyline points="440.9,541.9 447.5,541.9 447.5,592.9 440.9,592.9" fill="none" stroke="#0a0a0a" stroke-width="1.1" stroke-linejoin="miter"/>
<polyline points="460.1,466.4 466.5,466.4 466.5,525.9 460.1,525.9" fill="none" stroke="#0a0a0a" stroke-width="1.1" stroke-linejoin="miter"/>
<text x="449.43" y="503.7" font-size="12.5" font-weight="700" text-anchor="middle" fill="#0a0a0a" transform="rotate(90 449.43 503.7)">##</text>
<text x="444.58" y="567.6" font-size="17" font-weight="700" text-anchor="middle" fill="#0a0a0a" transform="rotate(90 444.58 567.6)">**</text>
<text x="469.69" y="493.5" font-size="14" font-weight="700" text-anchor="middle" fill="#0a0a0a" transform="rotate(90 469.69 493.5)" stroke="#0a0a0a" stroke-width="0.45">†</text>
<text transform="translate(18.85 753.9) scale(1 1.05)" font-size="42" font-weight="400" fill="#0a0a0a">F</text>
<line x1="250.1" y1="912.2" x2="250.1" y2="919.1" stroke="#5867AB" stroke-width="1.3" stroke-linecap="butt"/>
<line x1="241.3" y1="912.2" x2="258.9" y2="912.2" stroke="#5867AB" stroke-width="1.3" stroke-linecap="butt"/>
<rect x="232.6" y="918.1" width="35" height="57.2" fill="#5867AB"/>
<line x1="302.7" y1="807.7" x2="302.7" y2="820.8" stroke="#84BEA6" stroke-width="1.3" stroke-linecap="butt"/>
<line x1="293.9" y1="807.7" x2="311.5" y2="807.7" stroke="#84BEA6" stroke-width="1.3" stroke-linecap="butt"/>
<rect x="285.2" y="819.8" width="35" height="155.5" fill="#84BEA6"/>
<line x1="355.2" y1="821.2" x2="355.2" y2="830.2" stroke="#D5E99C" stroke-width="1.3" stroke-linecap="butt"/>
<line x1="346.4" y1="821.2" x2="364" y2="821.2" stroke="#D5E99C" stroke-width="1.3" stroke-linecap="butt"/>
<rect x="337.7" y="829.2" width="35" height="146.1" fill="#D5E99C"/>
<line x1="407.7" y1="870.5" x2="407.7" y2="885.3" stroke="#EDB76B" stroke-width="1.3" stroke-linecap="butt"/>
<line x1="398.9" y1="870.5" x2="416.5" y2="870.5" stroke="#EDB76B" stroke-width="1.3" stroke-linecap="butt"/>
<rect x="390.2" y="884.3" width="35" height="91" fill="#EDB76B"/>
<line x1="216" y1="746.35" x2="216" y2="976.25" stroke="#0a0a0a" stroke-width="1.9" stroke-linecap="butt"/>
<line x1="215.05" y1="975.3" x2="443.7" y2="975.3" stroke="#0a0a0a" stroke-width="1.9" stroke-linecap="butt"/>
<line x1="207" y1="747.3" x2="216" y2="747.3" stroke="#0a0a0a" stroke-width="1.9" stroke-linecap="butt"/>
<text x="202.8" y="753.86" font-size="16.4" font-weight="700" text-anchor="end" fill="#0a0a0a">80</text>
<line x1="207" y1="804.5" x2="216" y2="804.5" stroke="#0a0a0a" stroke-width="1.9" stroke-linecap="butt"/>
<text x="202.8" y="811.06" font-size="16.4" font-weight="700" text-anchor="end" fill="#0a0a0a">60</text>
<line x1="207" y1="861.4" x2="216" y2="861.4" stroke="#0a0a0a" stroke-width="1.9" stroke-linecap="butt"/>
<text x="202.8" y="867.96" font-size="16.4" font-weight="700" text-anchor="end" fill="#0a0a0a">40</text>
<line x1="207" y1="918.4" x2="216" y2="918.4" stroke="#0a0a0a" stroke-width="1.9" stroke-linecap="butt"/>
<text x="202.8" y="924.96" font-size="16.4" font-weight="700" text-anchor="end" fill="#0a0a0a">20</text>
<line x1="207" y1="975.3" x2="216" y2="975.3" stroke="#0a0a0a" stroke-width="1.9" stroke-linecap="butt"/>
<text x="202.8" y="981.86" font-size="16.4" font-weight="700" text-anchor="end" fill="#0a0a0a">0</text>
<line x1="250.1" y1="975.3" x2="250.1" y2="985.3" stroke="#0a0a0a" stroke-width="1.9" stroke-linecap="butt"/>
<line x1="302.7" y1="975.3" x2="302.7" y2="985.3" stroke="#0a0a0a" stroke-width="1.9" stroke-linecap="butt"/>
<line x1="355.2" y1="975.3" x2="355.2" y2="985.3" stroke="#0a0a0a" stroke-width="1.9" stroke-linecap="butt"/>
<line x1="407.7" y1="975.3" x2="407.7" y2="985.3" stroke="#0a0a0a" stroke-width="1.9" stroke-linecap="butt"/>
<text x="173.2" y="865.2" font-size="19.3" font-weight="700" text-anchor="middle" fill="#0a0a0a" transform="rotate(-90 173.2 865.2)">Apoptosis incidence %</text>
<text x="216" y="1006.14" font-size="19" font-weight="700" text-anchor="end" fill="#0a0a0a">Hyp</text>
<text x="216" y="1028.24" font-size="19" font-weight="700" text-anchor="end" fill="#0a0a0a">Blank serum</text>
<text x="219.23" y="1050.44" font-size="19" font-weight="700" text-anchor="end" fill="#0a0a0a">SYYQ-containing</text>
<text x="216" y="1071.64" font-size="19" font-weight="700" text-anchor="end" fill="#0a0a0a">serum</text>
<text x="250.1" y="1005.92" font-size="24.89" font-weight="400" text-anchor="middle" fill="#0a0a0a" stroke="#0a0a0a" stroke-width="0.18">-</text>
<text x="302.7" y="1006.83" font-size="19" font-weight="400" text-anchor="middle" fill="#0a0a0a" stroke="#0a0a0a" stroke-width="0.3">+</text>
<text x="355.2" y="1006.83" font-size="19" font-weight="400" text-anchor="middle" fill="#0a0a0a" stroke="#0a0a0a" stroke-width="0.3">+</text>
<text x="407.7" y="1006.83" font-size="19" font-weight="400" text-anchor="middle" fill="#0a0a0a" stroke="#0a0a0a" stroke-width="0.3">+</text>
<text x="250.1" y="1029.42" font-size="24.89" font-weight="400" text-anchor="middle" fill="#0a0a0a" stroke="#0a0a0a" stroke-width="0.18">-</text>
<text x="302.7" y="1029.42" font-size="24.89" font-weight="400" text-anchor="middle" fill="#0a0a0a" stroke="#0a0a0a" stroke-width="0.18">-</text>
<text x="355.2" y="1030.23" font-size="19" font-weight="400" text-anchor="middle" fill="#0a0a0a" stroke="#0a0a0a" stroke-width="0.3">+</text>
<text x="407.7" y="1029.42" font-size="24.89" font-weight="400" text-anchor="middle" fill="#0a0a0a" stroke="#0a0a0a" stroke-width="0.18">-</text>
<text x="250.1" y="1052.92" font-size="24.89" font-weight="400" text-anchor="middle" fill="#0a0a0a" stroke="#0a0a0a" stroke-width="0.18">-</text>
<text x="302.7" y="1052.92" font-size="24.89" font-weight="400" text-anchor="middle" fill="#0a0a0a" stroke="#0a0a0a" stroke-width="0.18">-</text>
<text x="355.2" y="1052.92" font-size="24.89" font-weight="400" text-anchor="middle" fill="#0a0a0a" stroke="#0a0a0a" stroke-width="0.18">-</text>
<text x="407.7" y="1054.13" font-size="19" font-weight="400" text-anchor="middle" fill="#0a0a0a" stroke="#0a0a0a" stroke-width="0.3">+</text>
<polyline points="302.2,791.6 302.2,788.1 354.2,788.1 354.2,791.6" fill="none" stroke="#0a0a0a" stroke-width="1.35" stroke-linejoin="miter"/>
<text x="328.2" y="778.5" font-size="11" font-weight="400" text-anchor="middle" fill="#0a0a0a" stroke="#0a0a0a" stroke-width="0.2">ns</text>
<text x="302.2" y="811.37" font-size="16.5" font-weight="700" text-anchor="middle" fill="#0a0a0a">**</text>
<text x="407.9" y="869.49" font-size="14" font-weight="700" text-anchor="middle" fill="#0a0a0a">##</text>
<text transform="translate(515.09 429) scale(1 1.05)" font-size="42" font-weight="400" fill="#0a0a0a">G</text>
<line x1="661" y1="580.6" x2="661" y2="591.9" stroke="#5867AB" stroke-width="1.15" stroke-linecap="butt"/>
<line x1="653.75" y1="580.6" x2="668.25" y2="580.6" stroke="#5867AB" stroke-width="1.15" stroke-linecap="butt"/>
<rect x="646.5" y="590.9" width="29" height="49.8" fill="#5867AB"/>
<line x1="704.8" y1="481.4" x2="704.8" y2="500.5" stroke="#84BEA6" stroke-width="1.15" stroke-linecap="butt"/>
<line x1="697.55" y1="481.4" x2="712.05" y2="481.4" stroke="#84BEA6" stroke-width="1.15" stroke-linecap="butt"/>
<rect x="690.3" y="499.5" width="29" height="141.2" fill="#84BEA6"/>
<line x1="748.6" y1="482.1" x2="748.6" y2="500.5" stroke="#D5E99C" stroke-width="1.15" stroke-linecap="butt"/>
<line x1="741.35" y1="482.1" x2="755.85" y2="482.1" stroke="#D5E99C" stroke-width="1.15" stroke-linecap="butt"/>
<rect x="734.1" y="499.5" width="29" height="141.2" fill="#D5E99C"/>
<line x1="792.3" y1="524.4" x2="792.3" y2="545.3" stroke="#EDB76B" stroke-width="1.15" stroke-linecap="butt"/>
<line x1="785.05" y1="524.4" x2="799.55" y2="524.4" stroke="#EDB76B" stroke-width="1.15" stroke-linecap="butt"/>
<rect x="777.8" y="544.3" width="29" height="96.4" fill="#EDB76B"/>
<line x1="632" y1="449.78" x2="632" y2="641.73" stroke="#0a0a0a" stroke-width="2.05" stroke-linecap="butt"/>
<line x1="630.98" y1="640.7" x2="822.2" y2="640.7" stroke="#0a0a0a" stroke-width="2.05" stroke-linecap="butt"/>
<line x1="624" y1="450.8" x2="632" y2="450.8" stroke="#0a0a0a" stroke-width="2.05" stroke-linecap="butt"/>
<text x="621.5" y="456.4" font-size="14" font-weight="700" text-anchor="end" fill="#0a0a0a">0.8</text>
<line x1="624" y1="498.5" x2="632" y2="498.5" stroke="#0a0a0a" stroke-width="2.05" stroke-linecap="butt"/>
<text x="621.5" y="504.1" font-size="14" font-weight="700" text-anchor="end" fill="#0a0a0a">0.6</text>
<line x1="624" y1="545.8" x2="632" y2="545.8" stroke="#0a0a0a" stroke-width="2.05" stroke-linecap="butt"/>
<text x="621.5" y="551.4" font-size="14" font-weight="700" text-anchor="end" fill="#0a0a0a">0.4</text>
<line x1="624" y1="593.4" x2="632" y2="593.4" stroke="#0a0a0a" stroke-width="2.05" stroke-linecap="butt"/>
<text x="621.5" y="599" font-size="14" font-weight="700" text-anchor="end" fill="#0a0a0a">0.2</text>
<line x1="624" y1="640.7" x2="632" y2="640.7" stroke="#0a0a0a" stroke-width="2.05" stroke-linecap="butt"/>
<text x="621.5" y="646.3" font-size="14" font-weight="700" text-anchor="end" fill="#0a0a0a">0.0</text>
<line x1="661" y1="640.7" x2="661" y2="648.7" stroke="#0a0a0a" stroke-width="2.05" stroke-linecap="butt"/>
<line x1="704.8" y1="640.7" x2="704.8" y2="648.7" stroke="#0a0a0a" stroke-width="2.05" stroke-linecap="butt"/>
<line x1="748.6" y1="640.7" x2="748.6" y2="648.7" stroke="#0a0a0a" stroke-width="2.05" stroke-linecap="butt"/>
<line x1="792.3" y1="640.7" x2="792.3" y2="648.7" stroke="#0a0a0a" stroke-width="2.05" stroke-linecap="butt"/>
<text x="595.5" y="544.9" font-size="15.8" font-weight="700" text-anchor="middle" fill="#0a0a0a" transform="rotate(-90 595.5 544.9)">Caspase-9/Actin</text>
<text x="632" y="662.46" font-size="16" font-weight="700" text-anchor="end" fill="#0a0a0a">Hyp</text>
<text x="632" y="681.26" font-size="16" font-weight="700" text-anchor="end" fill="#0a0a0a">Blank serum</text>
<text x="634.72" y="699.36" font-size="16" font-weight="700" text-anchor="end" fill="#0a0a0a">SYYQ-containing</text>
<text x="632" y="717.56" font-size="16" font-weight="700" text-anchor="end" fill="#0a0a0a">serum</text>
<text x="661" y="662.28" font-size="20.96" font-weight="400" text-anchor="middle" fill="#0a0a0a" stroke="#0a0a0a" stroke-width="0.18">-</text>
<text x="704.8" y="663.03" font-size="16" font-weight="400" text-anchor="middle" fill="#0a0a0a" stroke="#0a0a0a" stroke-width="0.3">+</text>
<text x="748.6" y="663.03" font-size="16" font-weight="400" text-anchor="middle" fill="#0a0a0a" stroke="#0a0a0a" stroke-width="0.3">+</text>
<text x="792.3" y="663.03" font-size="16" font-weight="400" text-anchor="middle" fill="#0a0a0a" stroke="#0a0a0a" stroke-width="0.3">+</text>
<text x="661" y="682.38" font-size="20.96" font-weight="400" text-anchor="middle" fill="#0a0a0a" stroke="#0a0a0a" stroke-width="0.18">-</text>
<text x="704.8" y="682.38" font-size="20.96" font-weight="400" text-anchor="middle" fill="#0a0a0a" stroke="#0a0a0a" stroke-width="0.18">-</text>
<text x="748.6" y="682.63" font-size="16" font-weight="400" text-anchor="middle" fill="#0a0a0a" stroke="#0a0a0a" stroke-width="0.3">+</text>
<text x="792.3" y="682.38" font-size="20.96" font-weight="400" text-anchor="middle" fill="#0a0a0a" stroke="#0a0a0a" stroke-width="0.18">-</text>
<text x="661" y="702.18" font-size="20.96" font-weight="400" text-anchor="middle" fill="#0a0a0a" stroke="#0a0a0a" stroke-width="0.18">-</text>
<text x="704.8" y="702.18" font-size="20.96" font-weight="400" text-anchor="middle" fill="#0a0a0a" stroke="#0a0a0a" stroke-width="0.18">-</text>
<text x="748.6" y="702.18" font-size="20.96" font-weight="400" text-anchor="middle" fill="#0a0a0a" stroke="#0a0a0a" stroke-width="0.18">-</text>
<text x="792.3" y="702.43" font-size="16" font-weight="400" text-anchor="middle" fill="#0a0a0a" stroke="#0a0a0a" stroke-width="0.3">+</text>
<polyline points="704.1,465 704.1,462.2 747.5,462.2 747.5,465" fill="none" stroke="#0a0a0a" stroke-width="1.35" stroke-linejoin="miter"/>
<text x="725.8" y="453.5" font-size="9.5" font-weight="400" text-anchor="middle" fill="#0a0a0a" stroke="#0a0a0a" stroke-width="0.2">ns</text>
<text x="704.9" y="483.5" font-size="14" font-weight="700" text-anchor="middle" fill="#0a0a0a">**</text>
<text x="792.7" y="522.16" font-size="11" font-weight="700" text-anchor="middle" fill="#0a0a0a">#</text>
<line x1="972.4" y1="499.5" x2="972.4" y2="514.4" stroke="#5867AB" stroke-width="1.15" stroke-linecap="butt"/>
<line x1="965.15" y1="499.5" x2="979.65" y2="499.5" stroke="#5867AB" stroke-width="1.15" stroke-linecap="butt"/>
<rect x="957.9" y="513.4" width="29" height="126.6" fill="#5867AB"/>
<line x1="1016.2" y1="520.9" x2="1016.2" y2="527.2" stroke="#84BEA6" stroke-width="1.15" stroke-linecap="butt"/>
<line x1="1008.95" y1="520.9" x2="1023.45" y2="520.9" stroke="#84BEA6" stroke-width="1.15" stroke-linecap="butt"/>
<rect x="1001.7" y="526.2" width="29" height="113.8" fill="#84BEA6"/>
<line x1="1060" y1="520.9" x2="1060" y2="527.2" stroke="#D5E99C" stroke-width="1.15" stroke-linecap="butt"/>
<line x1="1052.75" y1="520.9" x2="1067.25" y2="520.9" stroke="#D5E99C" stroke-width="1.15" stroke-linecap="butt"/>
<rect x="1045.5" y="526.2" width="29" height="113.8" fill="#D5E99C"/>
<line x1="1103.7" y1="520.9" x2="1103.7" y2="527.2" stroke="#EDB76B" stroke-width="1.15" stroke-linecap="butt"/>
<line x1="1096.45" y1="520.9" x2="1110.95" y2="520.9" stroke="#EDB76B" stroke-width="1.15" stroke-linecap="butt"/>
<rect x="1089.2" y="526.2" width="29" height="113.8" fill="#EDB76B"/>
<line x1="943" y1="448.78" x2="943" y2="641.02" stroke="#0a0a0a" stroke-width="2.05" stroke-linecap="butt"/>
<line x1="941.98" y1="640" x2="1133.2" y2="640" stroke="#0a0a0a" stroke-width="2.05" stroke-linecap="butt"/>
<line x1="935" y1="449.8" x2="943" y2="449.8" stroke="#0a0a0a" stroke-width="2.05" stroke-linecap="butt"/>
<text x="932.5" y="455.4" font-size="14" font-weight="700" text-anchor="end" fill="#0a0a0a">0.8</text>
<line x1="935" y1="497" x2="943" y2="497" stroke="#0a0a0a" stroke-width="2.05" stroke-linecap="butt"/>
<text x="932.5" y="502.6" font-size="14" font-weight="700" text-anchor="end" fill="#0a0a0a">0.6</text>
<line x1="935" y1="544.7" x2="943" y2="544.7" stroke="#0a0a0a" stroke-width="2.05" stroke-linecap="butt"/>
<text x="932.5" y="550.3" font-size="14" font-weight="700" text-anchor="end" fill="#0a0a0a">0.4</text>
<line x1="935" y1="592.3" x2="943" y2="592.3" stroke="#0a0a0a" stroke-width="2.05" stroke-linecap="butt"/>
<text x="932.5" y="597.9" font-size="14" font-weight="700" text-anchor="end" fill="#0a0a0a">0.2</text>
<line x1="935" y1="640" x2="943" y2="640" stroke="#0a0a0a" stroke-width="2.05" stroke-linecap="butt"/>
<text x="932.5" y="645.6" font-size="14" font-weight="700" text-anchor="end" fill="#0a0a0a">0.0</text>
<line x1="972.4" y1="640" x2="972.4" y2="648" stroke="#0a0a0a" stroke-width="2.05" stroke-linecap="butt"/>
<line x1="1016.2" y1="640" x2="1016.2" y2="648" stroke="#0a0a0a" stroke-width="2.05" stroke-linecap="butt"/>
<line x1="1060" y1="640" x2="1060" y2="648" stroke="#0a0a0a" stroke-width="2.05" stroke-linecap="butt"/>
<line x1="1103.7" y1="640" x2="1103.7" y2="648" stroke="#0a0a0a" stroke-width="2.05" stroke-linecap="butt"/>
<text x="906.5" y="544" font-size="15.8" font-weight="700" text-anchor="middle" fill="#0a0a0a" transform="rotate(-90 906.5 544)">Bcl-2/Actin</text>
<text x="943" y="662.46" font-size="16" font-weight="700" text-anchor="end" fill="#0a0a0a">Hyp</text>
<text x="943" y="681.26" font-size="16" font-weight="700" text-anchor="end" fill="#0a0a0a">Blank serum</text>
<text x="945.72" y="699.36" font-size="16" font-weight="700" text-anchor="end" fill="#0a0a0a">SYYQ-containing</text>
<text x="943" y="717.56" font-size="16" font-weight="700" text-anchor="end" fill="#0a0a0a">serum</text>
<text x="972.4" y="662.28" font-size="20.96" font-weight="400" text-anchor="middle" fill="#0a0a0a" stroke="#0a0a0a" stroke-width="0.18">-</text>
<text x="1016.2" y="663.03" font-size="16" font-weight="400" text-anchor="middle" fill="#0a0a0a" stroke="#0a0a0a" stroke-width="0.3">+</text>
<text x="1060" y="663.03" font-size="16" font-weight="400" text-anchor="middle" fill="#0a0a0a" stroke="#0a0a0a" stroke-width="0.3">+</text>
<text x="1103.7" y="663.03" font-size="16" font-weight="400" text-anchor="middle" fill="#0a0a0a" stroke="#0a0a0a" stroke-width="0.3">+</text>
<text x="972.4" y="682.38" font-size="20.96" font-weight="400" text-anchor="middle" fill="#0a0a0a" stroke="#0a0a0a" stroke-width="0.18">-</text>
<text x="1016.2" y="682.38" font-size="20.96" font-weight="400" text-anchor="middle" fill="#0a0a0a" stroke="#0a0a0a" stroke-width="0.18">-</text>
<text x="1060" y="682.63" font-size="16" font-weight="400" text-anchor="middle" fill="#0a0a0a" stroke="#0a0a0a" stroke-width="0.3">+</text>
<text x="1103.7" y="682.38" font-size="20.96" font-weight="400" text-anchor="middle" fill="#0a0a0a" stroke="#0a0a0a" stroke-width="0.18">-</text>
<text x="972.4" y="702.18" font-size="20.96" font-weight="400" text-anchor="middle" fill="#0a0a0a" stroke="#0a0a0a" stroke-width="0.18">-</text>
<text x="1016.2" y="702.18" font-size="20.96" font-weight="400" text-anchor="middle" fill="#0a0a0a" stroke="#0a0a0a" stroke-width="0.18">-</text>
<text x="1060" y="702.18" font-size="20.96" font-weight="400" text-anchor="middle" fill="#0a0a0a" stroke="#0a0a0a" stroke-width="0.18">-</text>
<text x="1103.7" y="702.43" font-size="16" font-weight="400" text-anchor="middle" fill="#0a0a0a" stroke="#0a0a0a" stroke-width="0.3">+</text>
<line x1="1281.4" y1="589.7" x2="1281.4" y2="601.8" stroke="#5867AB" stroke-width="1.15" stroke-linecap="butt"/>
<line x1="1274.15" y1="589.7" x2="1288.65" y2="589.7" stroke="#5867AB" stroke-width="1.15" stroke-linecap="butt"/>
<rect x="1266.9" y="600.8" width="29" height="40.6" fill="#5867AB"/>
<line x1="1325.4" y1="492" x2="1325.4" y2="499.8" stroke="#84BEA6" stroke-width="1.15" stroke-linecap="butt"/>
<line x1="1318.15" y1="492" x2="1332.65" y2="492" stroke="#84BEA6" stroke-width="1.15" stroke-linecap="butt"/>
<rect x="1310.9" y="498.8" width="29" height="142.6" fill="#84BEA6"/>
<line x1="1369" y1="491.3" x2="1369" y2="500.5" stroke="#D5E99C" stroke-width="1.15" stroke-linecap="butt"/>
<line x1="1361.75" y1="491.3" x2="1376.25" y2="491.3" stroke="#D5E99C" stroke-width="1.15" stroke-linecap="butt"/>
<rect x="1354.5" y="499.5" width="29" height="141.9" fill="#D5E99C"/>
<line x1="1412.8" y1="524.1" x2="1412.8" y2="533" stroke="#EDB76B" stroke-width="1.15" stroke-linecap="butt"/>
<line x1="1405.55" y1="524.1" x2="1420.05" y2="524.1" stroke="#EDB76B" stroke-width="1.15" stroke-linecap="butt"/>
<rect x="1398.3" y="532" width="29" height="109.4" fill="#EDB76B"/>
<line x1="1252.3" y1="449.98" x2="1252.3" y2="642.42" stroke="#0a0a0a" stroke-width="2.05" stroke-linecap="butt"/>
<line x1="1251.27" y1="641.4" x2="1443.1" y2="641.4" stroke="#0a0a0a" stroke-width="2.05" stroke-linecap="butt"/>
<line x1="1244.3" y1="451" x2="1252.3" y2="451" stroke="#0a0a0a" stroke-width="2.05" stroke-linecap="butt"/>
<text x="1241.8" y="456.6" font-size="14" font-weight="700" text-anchor="end" fill="#0a0a0a">0.8</text>
<line x1="1244.3" y1="498.8" x2="1252.3" y2="498.8" stroke="#0a0a0a" stroke-width="2.05" stroke-linecap="butt"/>
<text x="1241.8" y="504.4" font-size="14" font-weight="700" text-anchor="end" fill="#0a0a0a">0.6</text>
<line x1="1244.3" y1="546.2" x2="1252.3" y2="546.2" stroke="#0a0a0a" stroke-width="2.05" stroke-linecap="butt"/>
<text x="1241.8" y="551.8" font-size="14" font-weight="700" text-anchor="end" fill="#0a0a0a">0.4</text>
<line x1="1244.3" y1="594" x2="1252.3" y2="594" stroke="#0a0a0a" stroke-width="2.05" stroke-linecap="butt"/>
<text x="1241.8" y="599.6" font-size="14" font-weight="700" text-anchor="end" fill="#0a0a0a">0.2</text>
<line x1="1244.3" y1="641.4" x2="1252.3" y2="641.4" stroke="#0a0a0a" stroke-width="2.05" stroke-linecap="butt"/>
<text x="1241.8" y="647" font-size="14" font-weight="700" text-anchor="end" fill="#0a0a0a">0.0</text>
<line x1="1281.4" y1="641.4" x2="1281.4" y2="649.4" stroke="#0a0a0a" stroke-width="2.05" stroke-linecap="butt"/>
<line x1="1325.4" y1="641.4" x2="1325.4" y2="649.4" stroke="#0a0a0a" stroke-width="2.05" stroke-linecap="butt"/>
<line x1="1369" y1="641.4" x2="1369" y2="649.4" stroke="#0a0a0a" stroke-width="2.05" stroke-linecap="butt"/>
<line x1="1412.8" y1="641.4" x2="1412.8" y2="649.4" stroke="#0a0a0a" stroke-width="2.05" stroke-linecap="butt"/>
<text x="1216.5" y="545.5" font-size="15.8" font-weight="700" text-anchor="middle" fill="#0a0a0a" transform="rotate(-90 1216.5 545.5)">VEGF/Actin</text>
<text x="1252.3" y="661.76" font-size="16" font-weight="700" text-anchor="end" fill="#0a0a0a">Hyp</text>
<text x="1252.3" y="680.36" font-size="16" font-weight="700" text-anchor="end" fill="#0a0a0a">Blank serum</text>
<text x="1255.02" y="698.96" font-size="16" font-weight="700" text-anchor="end" fill="#0a0a0a">SYYQ-containing</text>
<text x="1252.3" y="717.46" font-size="16" font-weight="700" text-anchor="end" fill="#0a0a0a">serum</text>
<text x="1281.4" y="661.58" font-size="20.96" font-weight="400" text-anchor="middle" fill="#0a0a0a" stroke="#0a0a0a" stroke-width="0.18">-</text>
<text x="1325.4" y="662.33" font-size="16" font-weight="400" text-anchor="middle" fill="#0a0a0a" stroke="#0a0a0a" stroke-width="0.3">+</text>
<text x="1369" y="662.33" font-size="16" font-weight="400" text-anchor="middle" fill="#0a0a0a" stroke="#0a0a0a" stroke-width="0.3">+</text>
<text x="1412.8" y="662.33" font-size="16" font-weight="400" text-anchor="middle" fill="#0a0a0a" stroke="#0a0a0a" stroke-width="0.3">+</text>
<text x="1281.4" y="681.48" font-size="20.96" font-weight="400" text-anchor="middle" fill="#0a0a0a" stroke="#0a0a0a" stroke-width="0.18">-</text>
<text x="1325.4" y="681.48" font-size="20.96" font-weight="400" text-anchor="middle" fill="#0a0a0a" stroke="#0a0a0a" stroke-width="0.18">-</text>
<text x="1369" y="681.73" font-size="16" font-weight="400" text-anchor="middle" fill="#0a0a0a" stroke="#0a0a0a" stroke-width="0.3">+</text>
<text x="1412.8" y="681.48" font-size="20.96" font-weight="400" text-anchor="middle" fill="#0a0a0a" stroke="#0a0a0a" stroke-width="0.18">-</text>
<text x="1281.4" y="701.78" font-size="20.96" font-weight="400" text-anchor="middle" fill="#0a0a0a" stroke="#0a0a0a" stroke-width="0.18">-</text>
<text x="1325.4" y="701.78" font-size="20.96" font-weight="400" text-anchor="middle" fill="#0a0a0a" stroke="#0a0a0a" stroke-width="0.18">-</text>
<text x="1369" y="701.78" font-size="20.96" font-weight="400" text-anchor="middle" fill="#0a0a0a" stroke="#0a0a0a" stroke-width="0.18">-</text>
<text x="1412.8" y="702.03" font-size="16" font-weight="400" text-anchor="middle" fill="#0a0a0a" stroke="#0a0a0a" stroke-width="0.3">+</text>
<polyline points="1325.4,478.4 1325.4,475.6 1369,475.6 1369,478.4" fill="none" stroke="#0a0a0a" stroke-width="1.35" stroke-linejoin="miter"/>
<text x="1347.2" y="467.5" font-size="9.5" font-weight="400" text-anchor="middle" fill="#0a0a0a" stroke="#0a0a0a" stroke-width="0.2">ns</text>
<text x="1325.4" y="493.8" font-size="14" font-weight="700" text-anchor="middle" fill="#0a0a0a">**</text>
<text x="1412.8" y="520.76" font-size="11" font-weight="700" text-anchor="middle" fill="#0a0a0a">#</text>
<line x1="1593.9" y1="495.6" x2="1593.9" y2="511.9" stroke="#5867AB" stroke-width="1.15" stroke-linecap="butt"/>
<line x1="1586.65" y1="495.6" x2="1601.15" y2="495.6" stroke="#5867AB" stroke-width="1.15" stroke-linecap="butt"/>
<rect x="1579.4" y="510.9" width="29" height="128.8" fill="#5867AB"/>
<line x1="1637.7" y1="579" x2="1637.7" y2="588.2" stroke="#84BEA6" stroke-width="1.15" stroke-linecap="butt"/>
<line x1="1630.45" y1="579" x2="1644.95" y2="579" stroke="#84BEA6" stroke-width="1.15" stroke-linecap="butt"/>
<rect x="1623.2" y="587.2" width="29" height="52.5" fill="#84BEA6"/>
<line x1="1681.4" y1="582.6" x2="1681.4" y2="588.2" stroke="#D5E99C" stroke-width="1.15" stroke-linecap="butt"/>
<line x1="1674.15" y1="582.6" x2="1688.65" y2="582.6" stroke="#D5E99C" stroke-width="1.15" stroke-linecap="butt"/>
<rect x="1666.9" y="587.2" width="29" height="52.5" fill="#D5E99C"/>
<line x1="1725.3" y1="545.2" x2="1725.3" y2="550.4" stroke="#EDB76B" stroke-width="1.15" stroke-linecap="butt"/>
<line x1="1718.05" y1="545.2" x2="1732.55" y2="545.2" stroke="#EDB76B" stroke-width="1.15" stroke-linecap="butt"/>
<rect x="1710.8" y="549.4" width="29" height="90.3" fill="#EDB76B"/>
<line x1="1564.4" y1="448.88" x2="1564.4" y2="640.73" stroke="#0a0a0a" stroke-width="2.05" stroke-linecap="butt"/>
<line x1="1563.38" y1="639.7" x2="1755.2" y2="639.7" stroke="#0a0a0a" stroke-width="2.05" stroke-linecap="butt"/>
<line x1="1556.4" y1="449.9" x2="1564.4" y2="449.9" stroke="#0a0a0a" stroke-width="2.05" stroke-linecap="butt"/>
<text x="1553.9" y="455.5" font-size="14" font-weight="700" text-anchor="end" fill="#0a0a0a">1.5</text>
<line x1="1556.4" y1="513.4" x2="1564.4" y2="513.4" stroke="#0a0a0a" stroke-width="2.05" stroke-linecap="butt"/>
<text x="1553.9" y="519" font-size="14" font-weight="700" text-anchor="end" fill="#0a0a0a">1.0</text>
<line x1="1556.4" y1="576.5" x2="1564.4" y2="576.5" stroke="#0a0a0a" stroke-width="2.05" stroke-linecap="butt"/>
<text x="1553.9" y="582.1" font-size="14" font-weight="700" text-anchor="end" fill="#0a0a0a">0.5</text>
<line x1="1556.4" y1="639.7" x2="1564.4" y2="639.7" stroke="#0a0a0a" stroke-width="2.05" stroke-linecap="butt"/>
<text x="1553.9" y="645.3" font-size="14" font-weight="700" text-anchor="end" fill="#0a0a0a">0.0</text>
<line x1="1593.9" y1="639.7" x2="1593.9" y2="647.7" stroke="#0a0a0a" stroke-width="2.05" stroke-linecap="butt"/>
<line x1="1637.7" y1="639.7" x2="1637.7" y2="647.7" stroke="#0a0a0a" stroke-width="2.05" stroke-linecap="butt"/>
<line x1="1681.4" y1="639.7" x2="1681.4" y2="647.7" stroke="#0a0a0a" stroke-width="2.05" stroke-linecap="butt"/>
<line x1="1725.3" y1="639.7" x2="1725.3" y2="647.7" stroke="#0a0a0a" stroke-width="2.05" stroke-linecap="butt"/>
<text x="1528.5" y="545" font-size="15.8" font-weight="700" text-anchor="middle" fill="#0a0a0a" transform="rotate(-90 1528.5 545)">FGF2/Actin</text>
<text x="1564.4" y="660.76" font-size="16" font-weight="700" text-anchor="end" fill="#0a0a0a">Hyp</text>
<text x="1564.4" y="679.66" font-size="16" font-weight="700" text-anchor="end" fill="#0a0a0a">Blank serum</text>
<text x="1567.12" y="697.46" font-size="16" font-weight="700" text-anchor="end" fill="#0a0a0a">SYYQ-containing</text>
<text x="1564.4" y="716.06" font-size="16" font-weight="700" text-anchor="end" fill="#0a0a0a">serum</text>
<text x="1593.9" y="660.58" font-size="20.96" font-weight="400" text-anchor="middle" fill="#0a0a0a" stroke="#0a0a0a" stroke-width="0.18">-</text>
<text x="1637.7" y="661.33" font-size="16" font-weight="400" text-anchor="middle" fill="#0a0a0a" stroke="#0a0a0a" stroke-width="0.3">+</text>
<text x="1681.4" y="661.33" font-size="16" font-weight="400" text-anchor="middle" fill="#0a0a0a" stroke="#0a0a0a" stroke-width="0.3">+</text>
<text x="1725.3" y="661.33" font-size="16" font-weight="400" text-anchor="middle" fill="#0a0a0a" stroke="#0a0a0a" stroke-width="0.3">+</text>
<text x="1593.9" y="680.78" font-size="20.96" font-weight="400" text-anchor="middle" fill="#0a0a0a" stroke="#0a0a0a" stroke-width="0.18">-</text>
<text x="1637.7" y="680.78" font-size="20.96" font-weight="400" text-anchor="middle" fill="#0a0a0a" stroke="#0a0a0a" stroke-width="0.18">-</text>
<text x="1681.4" y="681.03" font-size="16" font-weight="400" text-anchor="middle" fill="#0a0a0a" stroke="#0a0a0a" stroke-width="0.3">+</text>
<text x="1725.3" y="680.78" font-size="20.96" font-weight="400" text-anchor="middle" fill="#0a0a0a" stroke="#0a0a0a" stroke-width="0.18">-</text>
<text x="1593.9" y="700.28" font-size="20.96" font-weight="400" text-anchor="middle" fill="#0a0a0a" stroke="#0a0a0a" stroke-width="0.18">-</text>
<text x="1637.7" y="700.28" font-size="20.96" font-weight="400" text-anchor="middle" fill="#0a0a0a" stroke="#0a0a0a" stroke-width="0.18">-</text>
<text x="1681.4" y="700.28" font-size="20.96" font-weight="400" text-anchor="middle" fill="#0a0a0a" stroke="#0a0a0a" stroke-width="0.18">-</text>
<text x="1725.3" y="700.53" font-size="16" font-weight="400" text-anchor="middle" fill="#0a0a0a" stroke="#0a0a0a" stroke-width="0.3">+</text>
<polyline points="1637.5,566.4 1637.5,563.3 1681.4,563.3 1681.4,566.4" fill="none" stroke="#0a0a0a" stroke-width="1.35" stroke-linejoin="miter"/>
<text x="1659.45" y="555.5" font-size="9.5" font-weight="400" text-anchor="middle" fill="#0a0a0a" stroke="#0a0a0a" stroke-width="0.2">ns</text>
<text x="1638.2" y="581.9" font-size="14" font-weight="700" text-anchor="middle" fill="#0a0a0a">**</text>
<text x="1725.6" y="541.06" font-size="11" font-weight="700" text-anchor="middle" fill="#0a0a0a">##</text>
<text transform="translate(512.65 753.9) scale(1 1.05)" font-size="42" font-weight="400" fill="#0a0a0a">H</text>
<line x1="661" y1="829" x2="661" y2="837.9" stroke="#5867AB" stroke-width="1.15" stroke-linecap="butt"/>
<line x1="653.75" y1="829" x2="668.25" y2="829" stroke="#5867AB" stroke-width="1.15" stroke-linecap="butt"/>
<rect x="646.5" y="836.9" width="29" height="97.4" fill="#5867AB"/>
<line x1="704.8" y1="764.7" x2="704.8" y2="781" stroke="#84BEA6" stroke-width="1.15" stroke-linecap="butt"/>
<line x1="697.55" y1="764.7" x2="712.05" y2="764.7" stroke="#84BEA6" stroke-width="1.15" stroke-linecap="butt"/>
<rect x="690.3" y="780" width="29" height="154.3" fill="#84BEA6"/>
<line x1="748.6" y1="759.7" x2="748.6" y2="778.9" stroke="#D5E99C" stroke-width="1.15" stroke-linecap="butt"/>
<line x1="741.35" y1="759.7" x2="755.85" y2="759.7" stroke="#D5E99C" stroke-width="1.15" stroke-linecap="butt"/>
<rect x="734.1" y="777.9" width="29" height="156.4" fill="#D5E99C"/>
<line x1="792.3" y1="792.1" x2="792.3" y2="811.2" stroke="#EDB76B" stroke-width="1.15" stroke-linecap="butt"/>
<line x1="785.05" y1="792.1" x2="799.55" y2="792.1" stroke="#EDB76B" stroke-width="1.15" stroke-linecap="butt"/>
<rect x="777.8" y="810.2" width="29" height="124.1" fill="#EDB76B"/>
<line x1="632" y1="743.38" x2="632" y2="935.32" stroke="#0a0a0a" stroke-width="2.05" stroke-linecap="butt"/>
<line x1="630.98" y1="934.3" x2="822.2" y2="934.3" stroke="#0a0a0a" stroke-width="2.05" stroke-linecap="butt"/>
<line x1="624" y1="744.4" x2="632" y2="744.4" stroke="#0a0a0a" stroke-width="2.05" stroke-linecap="butt"/>
<text x="621.5" y="750" font-size="14" font-weight="700" text-anchor="end" fill="#0a0a0a">2.0</text>
<line x1="624" y1="791.7" x2="632" y2="791.7" stroke="#0a0a0a" stroke-width="2.05" stroke-linecap="butt"/>
<text x="621.5" y="797.3" font-size="14" font-weight="700" text-anchor="end" fill="#0a0a0a">1.5</text>
<line x1="624" y1="839.4" x2="632" y2="839.4" stroke="#0a0a0a" stroke-width="2.05" stroke-linecap="butt"/>
<text x="621.5" y="845" font-size="14" font-weight="700" text-anchor="end" fill="#0a0a0a">1.0</text>
<line x1="624" y1="886.6" x2="632" y2="886.6" stroke="#0a0a0a" stroke-width="2.05" stroke-linecap="butt"/>
<text x="621.5" y="892.2" font-size="14" font-weight="700" text-anchor="end" fill="#0a0a0a">0.5</text>
<line x1="624" y1="934.3" x2="632" y2="934.3" stroke="#0a0a0a" stroke-width="2.05" stroke-linecap="butt"/>
<text x="621.5" y="939.9" font-size="14" font-weight="700" text-anchor="end" fill="#0a0a0a">0.0</text>
<line x1="661" y1="934.3" x2="661" y2="942.3" stroke="#0a0a0a" stroke-width="2.05" stroke-linecap="butt"/>
<line x1="704.8" y1="934.3" x2="704.8" y2="942.3" stroke="#0a0a0a" stroke-width="2.05" stroke-linecap="butt"/>
<line x1="748.6" y1="934.3" x2="748.6" y2="942.3" stroke="#0a0a0a" stroke-width="2.05" stroke-linecap="butt"/>
<line x1="792.3" y1="934.3" x2="792.3" y2="942.3" stroke="#0a0a0a" stroke-width="2.05" stroke-linecap="butt"/>
<text x="571.3" y="838.6" font-size="16" font-weight="700" text-anchor="middle" fill="#0a0a0a" transform="rotate(-90 571.3 838.6)">Relative Expression of</text>
<text x="590.8" y="838.6" font-size="16" font-weight="700" text-anchor="middle" fill="#0a0a0a" transform="rotate(-90 590.8 838.6)">Caspase 9</text>
<text x="632" y="960.26" font-size="16" font-weight="700" text-anchor="end" fill="#0a0a0a">Hyp</text>
<text x="632" y="978.06" font-size="16" font-weight="700" text-anchor="end" fill="#0a0a0a">Blank serum</text>
<text x="634.72" y="996.56" font-size="16" font-weight="700" text-anchor="end" fill="#0a0a0a">SYYQ-containing</text>
<text x="632" y="1015.06" font-size="16" font-weight="700" text-anchor="end" fill="#0a0a0a">serum</text>
<text x="661" y="960.08" font-size="20.96" font-weight="400" text-anchor="middle" fill="#0a0a0a" stroke="#0a0a0a" stroke-width="0.18">-</text>
<text x="704.8" y="960.83" font-size="16" font-weight="400" text-anchor="middle" fill="#0a0a0a" stroke="#0a0a0a" stroke-width="0.3">+</text>
<text x="748.6" y="960.83" font-size="16" font-weight="400" text-anchor="middle" fill="#0a0a0a" stroke="#0a0a0a" stroke-width="0.3">+</text>
<text x="792.3" y="960.83" font-size="16" font-weight="400" text-anchor="middle" fill="#0a0a0a" stroke="#0a0a0a" stroke-width="0.3">+</text>
<text x="661" y="979.18" font-size="20.96" font-weight="400" text-anchor="middle" fill="#0a0a0a" stroke="#0a0a0a" stroke-width="0.18">-</text>
<text x="704.8" y="979.18" font-size="20.96" font-weight="400" text-anchor="middle" fill="#0a0a0a" stroke="#0a0a0a" stroke-width="0.18">-</text>
<text x="748.6" y="979.43" font-size="16" font-weight="400" text-anchor="middle" fill="#0a0a0a" stroke="#0a0a0a" stroke-width="0.3">+</text>
<text x="792.3" y="979.18" font-size="20.96" font-weight="400" text-anchor="middle" fill="#0a0a0a" stroke="#0a0a0a" stroke-width="0.18">-</text>
<text x="661" y="999.38" font-size="20.96" font-weight="400" text-anchor="middle" fill="#0a0a0a" stroke="#0a0a0a" stroke-width="0.18">-</text>
<text x="704.8" y="999.38" font-size="20.96" font-weight="400" text-anchor="middle" fill="#0a0a0a" stroke="#0a0a0a" stroke-width="0.18">-</text>
<text x="748.6" y="999.38" font-size="20.96" font-weight="400" text-anchor="middle" fill="#0a0a0a" stroke="#0a0a0a" stroke-width="0.18">-</text>
<text x="792.3" y="999.63" font-size="16" font-weight="400" text-anchor="middle" fill="#0a0a0a" stroke="#0a0a0a" stroke-width="0.3">+</text>
<polyline points="704.9,748.5 704.9,745.5 748.2,745.5 748.2,748.5" fill="none" stroke="#0a0a0a" stroke-width="1.35" stroke-linejoin="miter"/>
<text x="726.55" y="737.5" font-size="9.5" font-weight="400" text-anchor="middle" fill="#0a0a0a" stroke="#0a0a0a" stroke-width="0.2">ns</text>
<text x="704.5" y="765.8" font-size="14" font-weight="700" text-anchor="middle" fill="#0a0a0a">**</text>
<line x1="972.4" y1="795.6" x2="972.4" y2="808.7" stroke="#5867AB" stroke-width="1.15" stroke-linecap="butt"/>
<line x1="965.15" y1="795.6" x2="979.65" y2="795.6" stroke="#5867AB" stroke-width="1.15" stroke-linecap="butt"/>
<rect x="957.9" y="807.7" width="29" height="128" fill="#5867AB"/>
<line x1="1016.2" y1="820.9" x2="1016.2" y2="833.2" stroke="#84BEA6" stroke-width="1.15" stroke-linecap="butt"/>
<line x1="1008.95" y1="820.9" x2="1023.45" y2="820.9" stroke="#84BEA6" stroke-width="1.15" stroke-linecap="butt"/>
<rect x="1001.7" y="832.2" width="29" height="103.5" fill="#84BEA6"/>
<line x1="1060" y1="811.6" x2="1060" y2="833.2" stroke="#D5E99C" stroke-width="1.15" stroke-linecap="butt"/>
<line x1="1052.75" y1="811.6" x2="1067.25" y2="811.6" stroke="#D5E99C" stroke-width="1.15" stroke-linecap="butt"/>
<rect x="1045.5" y="832.2" width="29" height="103.5" fill="#D5E99C"/>
<line x1="1103.7" y1="815.9" x2="1103.7" y2="836.1" stroke="#EDB76B" stroke-width="1.15" stroke-linecap="butt"/>
<line x1="1096.45" y1="815.9" x2="1110.95" y2="815.9" stroke="#EDB76B" stroke-width="1.15" stroke-linecap="butt"/>
<rect x="1089.2" y="835.1" width="29" height="100.6" fill="#EDB76B"/>
<line x1="943" y1="745.18" x2="943" y2="936.73" stroke="#0a0a0a" stroke-width="2.05" stroke-linecap="butt"/>
<line x1="941.98" y1="935.7" x2="1133.2" y2="935.7" stroke="#0a0a0a" stroke-width="2.05" stroke-linecap="butt"/>
<line x1="935" y1="746.2" x2="943" y2="746.2" stroke="#0a0a0a" stroke-width="2.05" stroke-linecap="butt"/>
<text x="932.5" y="751.8" font-size="14" font-weight="700" text-anchor="end" fill="#0a0a0a">1.5</text>
<line x1="935" y1="809.5" x2="943" y2="809.5" stroke="#0a0a0a" stroke-width="2.05" stroke-linecap="butt"/>
<text x="932.5" y="815.1" font-size="14" font-weight="700" text-anchor="end" fill="#0a0a0a">1.0</text>
<line x1="935" y1="872.8" x2="943" y2="872.8" stroke="#0a0a0a" stroke-width="2.05" stroke-linecap="butt"/>
<text x="932.5" y="878.4" font-size="14" font-weight="700" text-anchor="end" fill="#0a0a0a">0.5</text>
<line x1="935" y1="935.7" x2="943" y2="935.7" stroke="#0a0a0a" stroke-width="2.05" stroke-linecap="butt"/>
<text x="932.5" y="941.3" font-size="14" font-weight="700" text-anchor="end" fill="#0a0a0a">0.0</text>
<line x1="972.4" y1="935.7" x2="972.4" y2="943.7" stroke="#0a0a0a" stroke-width="2.05" stroke-linecap="butt"/>
<line x1="1016.2" y1="935.7" x2="1016.2" y2="943.7" stroke="#0a0a0a" stroke-width="2.05" stroke-linecap="butt"/>
<line x1="1060" y1="935.7" x2="1060" y2="943.7" stroke="#0a0a0a" stroke-width="2.05" stroke-linecap="butt"/>
<line x1="1103.7" y1="935.7" x2="1103.7" y2="943.7" stroke="#0a0a0a" stroke-width="2.05" stroke-linecap="butt"/>
<text x="882.7" y="840.4" font-size="16" font-weight="700" text-anchor="middle" fill="#0a0a0a" transform="rotate(-90 882.7 840.4)">Relative Expression of</text>
<text x="902.2" y="840.4" font-size="16" font-weight="700" text-anchor="middle" fill="#0a0a0a" transform="rotate(-90 902.2 840.4)">Bcl2</text>
<text x="943" y="958.86" font-size="16" font-weight="700" text-anchor="end" fill="#0a0a0a">Hyp</text>
<text x="943" y="976.96" font-size="16" font-weight="700" text-anchor="end" fill="#0a0a0a">Blank serum</text>
<text x="945.72" y="995.46" font-size="16" font-weight="700" text-anchor="end" fill="#0a0a0a">SYYQ-containing</text>
<text x="943" y="1013.66" font-size="16" font-weight="700" text-anchor="end" fill="#0a0a0a">serum</text>
<text x="972.4" y="958.68" font-size="20.96" font-weight="400" text-anchor="middle" fill="#0a0a0a" stroke="#0a0a0a" stroke-width="0.18">-</text>
<text x="1016.2" y="959.43" font-size="16" font-weight="400" text-anchor="middle" fill="#0a0a0a" stroke="#0a0a0a" stroke-width="0.3">+</text>
<text x="1060" y="959.43" font-size="16" font-weight="400" text-anchor="middle" fill="#0a0a0a" stroke="#0a0a0a" stroke-width="0.3">+</text>
<text x="1103.7" y="959.43" font-size="16" font-weight="400" text-anchor="middle" fill="#0a0a0a" stroke="#0a0a0a" stroke-width="0.3">+</text>
<text x="972.4" y="978.08" font-size="20.96" font-weight="400" text-anchor="middle" fill="#0a0a0a" stroke="#0a0a0a" stroke-width="0.18">-</text>
<text x="1016.2" y="978.08" font-size="20.96" font-weight="400" text-anchor="middle" fill="#0a0a0a" stroke="#0a0a0a" stroke-width="0.18">-</text>
<text x="1060" y="978.33" font-size="16" font-weight="400" text-anchor="middle" fill="#0a0a0a" stroke="#0a0a0a" stroke-width="0.3">+</text>
<text x="1103.7" y="978.08" font-size="20.96" font-weight="400" text-anchor="middle" fill="#0a0a0a" stroke="#0a0a0a" stroke-width="0.18">-</text>
<text x="972.4" y="998.28" font-size="20.96" font-weight="400" text-anchor="middle" fill="#0a0a0a" stroke="#0a0a0a" stroke-width="0.18">-</text>
<text x="1016.2" y="998.28" font-size="20.96" font-weight="400" text-anchor="middle" fill="#0a0a0a" stroke="#0a0a0a" stroke-width="0.18">-</text>
<text x="1060" y="998.28" font-size="20.96" font-weight="400" text-anchor="middle" fill="#0a0a0a" stroke="#0a0a0a" stroke-width="0.18">-</text>
<text x="1103.7" y="998.53" font-size="16" font-weight="400" text-anchor="middle" fill="#0a0a0a" stroke="#0a0a0a" stroke-width="0.3">+</text>
<line x1="1282.8" y1="827.3" x2="1282.8" y2="838.7" stroke="#5867AB" stroke-width="1.15" stroke-linecap="butt"/>
<line x1="1275.55" y1="827.3" x2="1290.05" y2="827.3" stroke="#5867AB" stroke-width="1.15" stroke-linecap="butt"/>
<rect x="1268.3" y="837.7" width="29" height="95.9" fill="#5867AB"/>
<line x1="1326.9" y1="767" x2="1326.9" y2="779.8" stroke="#84BEA6" stroke-width="1.15" stroke-linecap="butt"/>
<line x1="1319.65" y1="767" x2="1334.15" y2="767" stroke="#84BEA6" stroke-width="1.15" stroke-linecap="butt"/>
<rect x="1312.4" y="778.8" width="29" height="154.8" fill="#84BEA6"/>
<line x1="1370.4" y1="757.4" x2="1370.4" y2="779.1" stroke="#D5E99C" stroke-width="1.15" stroke-linecap="butt"/>
<line x1="1363.15" y1="757.4" x2="1377.65" y2="757.4" stroke="#D5E99C" stroke-width="1.15" stroke-linecap="butt"/>
<rect x="1355.9" y="778.1" width="29" height="155.5" fill="#D5E99C"/>
<line x1="1414.2" y1="791.7" x2="1414.2" y2="801.6" stroke="#EDB76B" stroke-width="1.15" stroke-linecap="butt"/>
<line x1="1406.95" y1="791.7" x2="1421.45" y2="791.7" stroke="#EDB76B" stroke-width="1.15" stroke-linecap="butt"/>
<rect x="1399.7" y="800.6" width="29" height="133" fill="#EDB76B"/>
<line x1="1253.8" y1="742.48" x2="1253.8" y2="934.62" stroke="#0a0a0a" stroke-width="2.05" stroke-linecap="butt"/>
<line x1="1252.77" y1="933.6" x2="1444.2" y2="933.6" stroke="#0a0a0a" stroke-width="2.05" stroke-linecap="butt"/>
<line x1="1245.8" y1="743.5" x2="1253.8" y2="743.5" stroke="#0a0a0a" stroke-width="2.05" stroke-linecap="butt"/>
<text x="1243.3" y="749.1" font-size="14" font-weight="700" text-anchor="end" fill="#0a0a0a">2.0</text>
<line x1="1245.8" y1="791.3" x2="1253.8" y2="791.3" stroke="#0a0a0a" stroke-width="2.05" stroke-linecap="butt"/>
<text x="1243.3" y="796.9" font-size="14" font-weight="700" text-anchor="end" fill="#0a0a0a">1.5</text>
<line x1="1245.8" y1="838.7" x2="1253.8" y2="838.7" stroke="#0a0a0a" stroke-width="2.05" stroke-linecap="butt"/>
<text x="1243.3" y="844.3" font-size="14" font-weight="700" text-anchor="end" fill="#0a0a0a">1.0</text>
<line x1="1245.8" y1="886.2" x2="1253.8" y2="886.2" stroke="#0a0a0a" stroke-width="2.05" stroke-linecap="butt"/>
<text x="1243.3" y="891.8" font-size="14" font-weight="700" text-anchor="end" fill="#0a0a0a">0.5</text>
<line x1="1245.8" y1="933.6" x2="1253.8" y2="933.6" stroke="#0a0a0a" stroke-width="2.05" stroke-linecap="butt"/>
<text x="1243.3" y="939.2" font-size="14" font-weight="700" text-anchor="end" fill="#0a0a0a">0.0</text>
<line x1="1282.8" y1="933.6" x2="1282.8" y2="941.6" stroke="#0a0a0a" stroke-width="2.05" stroke-linecap="butt"/>
<line x1="1326.9" y1="933.6" x2="1326.9" y2="941.6" stroke="#0a0a0a" stroke-width="2.05" stroke-linecap="butt"/>
<line x1="1370.4" y1="933.6" x2="1370.4" y2="941.6" stroke="#0a0a0a" stroke-width="2.05" stroke-linecap="butt"/>
<line x1="1414.2" y1="933.6" x2="1414.2" y2="941.6" stroke="#0a0a0a" stroke-width="2.05" stroke-linecap="butt"/>
<text x="1193.5" y="838.4" font-size="16" font-weight="700" text-anchor="middle" fill="#0a0a0a" transform="rotate(-90 1193.5 838.4)">Relative Expression of</text>
<text x="1213.2" y="838.4" font-size="16" font-weight="700" text-anchor="middle" fill="#0a0a0a" transform="rotate(-90 1213.2 838.4)">VEGF</text>
<text x="1253.8" y="959.66" font-size="16" font-weight="700" text-anchor="end" fill="#0a0a0a">Hyp</text>
<text x="1253.8" y="977.86" font-size="16" font-weight="700" text-anchor="end" fill="#0a0a0a">Blank serum</text>
<text x="1256.52" y="995.76" font-size="16" font-weight="700" text-anchor="end" fill="#0a0a0a">SYYQ-containing</text>
<text x="1253.8" y="1013.86" font-size="16" font-weight="700" text-anchor="end" fill="#0a0a0a">serum</text>
<text x="1282.8" y="959.48" font-size="20.96" font-weight="400" text-anchor="middle" fill="#0a0a0a" stroke="#0a0a0a" stroke-width="0.18">-</text>
<text x="1326.9" y="960.23" font-size="16" font-weight="400" text-anchor="middle" fill="#0a0a0a" stroke="#0a0a0a" stroke-width="0.3">+</text>
<text x="1370.4" y="960.23" font-size="16" font-weight="400" text-anchor="middle" fill="#0a0a0a" stroke="#0a0a0a" stroke-width="0.3">+</text>
<text x="1414.2" y="960.23" font-size="16" font-weight="400" text-anchor="middle" fill="#0a0a0a" stroke="#0a0a0a" stroke-width="0.3">+</text>
<text x="1282.8" y="978.98" font-size="20.96" font-weight="400" text-anchor="middle" fill="#0a0a0a" stroke="#0a0a0a" stroke-width="0.18">-</text>
<text x="1326.9" y="978.98" font-size="20.96" font-weight="400" text-anchor="middle" fill="#0a0a0a" stroke="#0a0a0a" stroke-width="0.18">-</text>
<text x="1370.4" y="979.23" font-size="16" font-weight="400" text-anchor="middle" fill="#0a0a0a" stroke="#0a0a0a" stroke-width="0.3">+</text>
<text x="1414.2" y="978.98" font-size="20.96" font-weight="400" text-anchor="middle" fill="#0a0a0a" stroke="#0a0a0a" stroke-width="0.18">-</text>
<text x="1282.8" y="998.58" font-size="20.96" font-weight="400" text-anchor="middle" fill="#0a0a0a" stroke="#0a0a0a" stroke-width="0.18">-</text>
<text x="1326.9" y="998.58" font-size="20.96" font-weight="400" text-anchor="middle" fill="#0a0a0a" stroke="#0a0a0a" stroke-width="0.18">-</text>
<text x="1370.4" y="998.58" font-size="20.96" font-weight="400" text-anchor="middle" fill="#0a0a0a" stroke="#0a0a0a" stroke-width="0.18">-</text>
<text x="1414.2" y="998.83" font-size="16" font-weight="400" text-anchor="middle" fill="#0a0a0a" stroke="#0a0a0a" stroke-width="0.3">+</text>
<polyline points="1326.5,751 1326.5,748.1 1370.4,748.1 1370.4,751" fill="none" stroke="#0a0a0a" stroke-width="1.35" stroke-linejoin="miter"/>
<text x="1348.45" y="740" font-size="9.5" font-weight="400" text-anchor="middle" fill="#0a0a0a" stroke="#0a0a0a" stroke-width="0.2">ns</text>
<text x="1326.5" y="769.9" font-size="14" font-weight="700" text-anchor="middle" fill="#0a0a0a">**</text>
<line x1="1593.1" y1="803.4" x2="1593.1" y2="810.8" stroke="#5867AB" stroke-width="1.15" stroke-linecap="butt"/>
<line x1="1585.85" y1="803.4" x2="1600.35" y2="803.4" stroke="#5867AB" stroke-width="1.15" stroke-linecap="butt"/>
<rect x="1578.6" y="809.8" width="29" height="125.6" fill="#5867AB"/>
<line x1="1636.8" y1="857.6" x2="1636.8" y2="882.9" stroke="#84BEA6" stroke-width="1.15" stroke-linecap="butt"/>
<line x1="1629.55" y1="857.6" x2="1644.05" y2="857.6" stroke="#84BEA6" stroke-width="1.15" stroke-linecap="butt"/>
<rect x="1622.3" y="881.9" width="29" height="53.5" fill="#84BEA6"/>
<line x1="1680.6" y1="871.5" x2="1680.6" y2="881.8" stroke="#D5E99C" stroke-width="1.15" stroke-linecap="butt"/>
<line x1="1673.35" y1="871.5" x2="1687.85" y2="871.5" stroke="#D5E99C" stroke-width="1.15" stroke-linecap="butt"/>
<rect x="1666.1" y="880.8" width="29" height="54.6" fill="#D5E99C"/>
<line x1="1724.5" y1="829.8" x2="1724.5" y2="842.2" stroke="#EDB76B" stroke-width="1.15" stroke-linecap="butt"/>
<line x1="1717.25" y1="829.8" x2="1731.75" y2="829.8" stroke="#EDB76B" stroke-width="1.15" stroke-linecap="butt"/>
<rect x="1710" y="841.2" width="29" height="94.2" fill="#EDB76B"/>
<line x1="1564.4" y1="744.98" x2="1564.4" y2="936.42" stroke="#0a0a0a" stroke-width="2.05" stroke-linecap="butt"/>
<line x1="1563.38" y1="935.4" x2="1754.5" y2="935.4" stroke="#0a0a0a" stroke-width="2.05" stroke-linecap="butt"/>
<line x1="1556.4" y1="746" x2="1564.4" y2="746" stroke="#0a0a0a" stroke-width="2.05" stroke-linecap="butt"/>
<text x="1553.9" y="751.6" font-size="14" font-weight="700" text-anchor="end" fill="#0a0a0a">1.5</text>
<line x1="1556.4" y1="809.5" x2="1564.4" y2="809.5" stroke="#0a0a0a" stroke-width="2.05" stroke-linecap="butt"/>
<text x="1553.9" y="815.1" font-size="14" font-weight="700" text-anchor="end" fill="#0a0a0a">1.0</text>
<line x1="1556.4" y1="872.6" x2="1564.4" y2="872.6" stroke="#0a0a0a" stroke-width="2.05" stroke-linecap="butt"/>
<text x="1553.9" y="878.2" font-size="14" font-weight="700" text-anchor="end" fill="#0a0a0a">0.5</text>
<line x1="1556.4" y1="935.4" x2="1564.4" y2="935.4" stroke="#0a0a0a" stroke-width="2.05" stroke-linecap="butt"/>
<text x="1553.9" y="941" font-size="14" font-weight="700" text-anchor="end" fill="#0a0a0a">0.0</text>
<line x1="1593.1" y1="935.4" x2="1593.1" y2="943.4" stroke="#0a0a0a" stroke-width="2.05" stroke-linecap="butt"/>
<line x1="1636.8" y1="935.4" x2="1636.8" y2="943.4" stroke="#0a0a0a" stroke-width="2.05" stroke-linecap="butt"/>
<line x1="1680.6" y1="935.4" x2="1680.6" y2="943.4" stroke="#0a0a0a" stroke-width="2.05" stroke-linecap="butt"/>
<line x1="1724.5" y1="935.4" x2="1724.5" y2="943.4" stroke="#0a0a0a" stroke-width="2.05" stroke-linecap="butt"/>
<text x="1505.6" y="840" font-size="16" font-weight="700" text-anchor="middle" fill="#0a0a0a" transform="rotate(-90 1505.6 840)">Relative Expression of</text>
<text x="1524.5" y="841.5" font-size="16" font-weight="700" text-anchor="middle" fill="#0a0a0a" transform="rotate(-90 1524.5 841.5)">FGF2</text>
<text x="1564.4" y="958.96" font-size="16" font-weight="700" text-anchor="end" fill="#0a0a0a">Hyp</text>
<text x="1564.4" y="977.16" font-size="16" font-weight="700" text-anchor="end" fill="#0a0a0a">Blank serum</text>
<text x="1567.12" y="994.96" font-size="16" font-weight="700" text-anchor="end" fill="#0a0a0a">SYYQ-containing</text>
<text x="1564.4" y="1013.16" font-size="16" font-weight="700" text-anchor="end" fill="#0a0a0a">serum</text>
<text x="1593.1" y="958.78" font-size="20.96" font-weight="400" text-anchor="middle" fill="#0a0a0a" stroke="#0a0a0a" stroke-width="0.18">-</text>
<text x="1636.8" y="959.53" font-size="16" font-weight="400" text-anchor="middle" fill="#0a0a0a" stroke="#0a0a0a" stroke-width="0.3">+</text>
<text x="1680.6" y="959.53" font-size="16" font-weight="400" text-anchor="middle" fill="#0a0a0a" stroke="#0a0a0a" stroke-width="0.3">+</text>
<text x="1724.5" y="959.53" font-size="16" font-weight="400" text-anchor="middle" fill="#0a0a0a" stroke="#0a0a0a" stroke-width="0.3">+</text>
<text x="1593.1" y="978.28" font-size="20.96" font-weight="400" text-anchor="middle" fill="#0a0a0a" stroke="#0a0a0a" stroke-width="0.18">-</text>
<text x="1636.8" y="978.28" font-size="20.96" font-weight="400" text-anchor="middle" fill="#0a0a0a" stroke="#0a0a0a" stroke-width="0.18">-</text>
<text x="1680.6" y="978.53" font-size="16" font-weight="400" text-anchor="middle" fill="#0a0a0a" stroke="#0a0a0a" stroke-width="0.3">+</text>
<text x="1724.5" y="978.28" font-size="20.96" font-weight="400" text-anchor="middle" fill="#0a0a0a" stroke="#0a0a0a" stroke-width="0.18">-</text>
<text x="1593.1" y="997.78" font-size="20.96" font-weight="400" text-anchor="middle" fill="#0a0a0a" stroke="#0a0a0a" stroke-width="0.18">-</text>
<text x="1636.8" y="997.78" font-size="20.96" font-weight="400" text-anchor="middle" fill="#0a0a0a" stroke="#0a0a0a" stroke-width="0.18">-</text>
<text x="1680.6" y="997.78" font-size="20.96" font-weight="400" text-anchor="middle" fill="#0a0a0a" stroke="#0a0a0a" stroke-width="0.18">-</text>
<text x="1724.5" y="998.03" font-size="16" font-weight="400" text-anchor="middle" fill="#0a0a0a" stroke="#0a0a0a" stroke-width="0.3">+</text>
<polyline points="1636.1,844.6 1636.1,841.6 1680,841.6 1680,844.6" fill="none" stroke="#0a0a0a" stroke-width="1.35" stroke-linejoin="miter"/>
<text x="1658.05" y="834" font-size="9.5" font-weight="400" text-anchor="middle" fill="#0a0a0a" stroke="#0a0a0a" stroke-width="0.2">ns</text>
<text x="1636.4" y="859.7" font-size="14" font-weight="700" text-anchor="middle" fill="#0a0a0a">**</text>
<text x="1724.9" y="826.76" font-size="11" font-weight="700" text-anchor="middle" fill="#0a0a0a">#</text>
<text transform="translate(19.02 1112.9) scale(1 1.05)" font-size="42" font-weight="400" fill="#0a0a0a">I</text>
<defs><filter id="b1" filterUnits="userSpaceOnUse" x="140" y="1140" width="330" height="270"><feGaussianBlur stdDeviation="2.3 1.8"/></filter><filter id="b2" filterUnits="userSpaceOnUse" x="140" y="1140" width="330" height="270"><feGaussianBlur stdDeviation="6 3"/></filter><linearGradient id="g5" x1="0" y1="0" x2="0" y2="1"><stop offset="0" stop-color="#cfcfcf"/><stop offset="1" stop-color="#dedede"/></linearGradient></defs>
<rect x="152" y="1153.4" width="300" height="44.1" fill="#f7f7f7"/>
<clipPath id="cb0"><rect x="152" y="1153.4" width="300" height="44.1"/></clipPath>
<rect x="152" y="1203.7" width="300" height="41.5" fill="#e2e2e2"/>
<clipPath id="cb1"><rect x="152" y="1203.7" width="300" height="41.5"/></clipPath>
<rect x="152" y="1251.7" width="300" height="40.4" fill="#f8f8f8"/>
<clipPath id="cb2"><rect x="152" y="1251.7" width="300" height="40.4"/></clipPath>
<rect x="152" y="1298.4" width="300" height="43.7" fill="#f1f1f1"/>
<clipPath id="cb3"><rect x="152" y="1298.4" width="300" height="43.7"/></clipPath>
<rect x="152" y="1348.7" width="300.8" height="47.8" fill="url(#g5)"/>
<clipPath id="cb4"><rect x="152" y="1348.7" width="300.8" height="47.8"/></clipPath>
<g clip-path="url(#cb0)">
<rect x="164" y="1172.85" width="54" height="7.5" rx="3.75" fill="#111" opacity="0.16" filter="url(#b1)"/>
<rect x="235" y="1171.8" width="53" height="9.2" rx="4.6" fill="#111" opacity="1" filter="url(#b1)"/>
<rect x="306" y="1172.1" width="55.5" height="9.8" rx="4.9" fill="#111" opacity="1" filter="url(#b1)"/>
<rect x="378" y="1173.8" width="59" height="7.6" rx="3.8" fill="#111" opacity="0.66" filter="url(#b1)"/>
</g>
<g clip-path="url(#cb1)">
<rect x="154" y="1213.5" width="296" height="6" rx="3" fill="#111" opacity="0.07" filter="url(#b2)"/>
<rect x="169" y="1220.7" width="54" height="9" rx="4.5" fill="#111" opacity="0.82" filter="url(#b1)"/>
<rect x="245" y="1222" width="53" height="7.2" rx="3.6" fill="#111" opacity="0.64" filter="url(#b1)"/>
<rect x="315.5" y="1222.3" width="52.5" height="7.2" rx="3.6" fill="#111" opacity="0.66" filter="url(#b1)"/>
<rect x="386" y="1221.9" width="54" height="7.4" rx="3.7" fill="#111" opacity="0.62" filter="url(#b1)"/>
</g>
<g clip-path="url(#cb2)">
<rect x="167" y="1270.3" width="48" height="5" rx="2.5" fill="#111" opacity="0.16" filter="url(#b1)"/>
<rect x="240" y="1270.3" width="51" height="6.6" rx="3.3" fill="#111" opacity="0.97" filter="url(#b1)"/>
<rect x="312.5" y="1270.2" width="50" height="6.8" rx="3.4" fill="#111" opacity="1" filter="url(#b1)"/>
<path d="M391 1273.55 Q412.5 1275.35 434 1273.55" fill="none" stroke="#111" stroke-width="6" stroke-linecap="round" opacity="0.95" filter="url(#b1)"/>
</g>
<g clip-path="url(#cb3)">
<rect x="161.5" y="1314.6" width="57" height="10" rx="5" fill="#111" opacity="1" filter="url(#b1)"/>
<rect x="234.5" y="1316" width="56.5" height="6.8" rx="3.4" fill="#111" opacity="0.47" filter="url(#b1)"/>
<rect x="308" y="1316.4" width="56" height="6" rx="3" fill="#111" opacity="0.4" filter="url(#b1)"/>
<rect x="384" y="1316.5" width="57" height="9" rx="4.5" fill="#111" opacity="0.95" filter="url(#b1)"/>
</g>
<g clip-path="url(#cb4)">
<path d="M169.4 1364.3 Q193.25 1366.7 217.1 1364.3" fill="none" stroke="#050505" stroke-width="6.8" stroke-linecap="round" opacity="1" filter="url(#b1)"/>
<path d="M243.8 1366.85 Q266.25 1369.85 288.7 1366.85" fill="none" stroke="#050505" stroke-width="9.6" stroke-linecap="round" opacity="1" filter="url(#b1)"/>
<path d="M311.4 1367.9 Q335.5 1370.7 359.6 1367.9" fill="none" stroke="#050505" stroke-width="8.8" stroke-linecap="round" opacity="1" filter="url(#b1)"/>
<path d="M385.6 1365.8 Q407 1369 428.4 1365.8" fill="none" stroke="#050505" stroke-width="9.2" stroke-linecap="round" opacity="1" filter="url(#b1)"/>
</g>
<rect x="152" y="1153.4" width="300" height="44.1" fill="none" stroke="#111" stroke-width="1.3"/>
<rect x="152" y="1203.7" width="300" height="41.5" fill="none" stroke="#111" stroke-width="1.3"/>
<rect x="152" y="1251.7" width="300" height="40.4" fill="none" stroke="#111" stroke-width="1.3"/>
<rect x="152" y="1298.4" width="300" height="43.7" fill="none" stroke="#111" stroke-width="1.3"/>
<rect x="152" y="1348.7" width="300.8" height="47.8" fill="none" stroke="#111" stroke-width="1.3"/>
<text x="147.2" y="1187" font-size="20.4" font-weight="700" text-anchor="end" fill="#0a0a0a">Caspase-9</text>
<text x="147.2" y="1235.3" font-size="20.4" font-weight="700" text-anchor="end" fill="#0a0a0a">Bcl-2</text>
<text x="147.2" y="1284.3" font-size="20.4" font-weight="700" text-anchor="end" fill="#0a0a0a">VEGF</text>
<text x="147.2" y="1332.7" font-size="20.4" font-weight="700" text-anchor="end" fill="#0a0a0a">FGF2</text>
<text x="147.2" y="1381.3" font-size="20.4" font-weight="700" text-anchor="end" fill="#0a0a0a">Actin</text>
<text x="458.3" y="1185.3" font-size="20.1" font-weight="700" text-anchor="start" fill="#0a0a0a">47kDa</text>
<text x="458.3" y="1233.6" font-size="20.1" font-weight="700" text-anchor="start" fill="#0a0a0a">26kDa</text>
<text x="458.3" y="1282" font-size="20.1" font-weight="700" text-anchor="start" fill="#0a0a0a">27kDa</text>
<text x="458.3" y="1330" font-size="20.1" font-weight="700" text-anchor="start" fill="#0a0a0a">31kDa</text>
<text x="458.3" y="1379" font-size="20.1" font-weight="700" text-anchor="start" fill="#0a0a0a">43kDa</text>
<text x="167.2" y="1422.3" font-size="20.1" font-weight="700" text-anchor="end" fill="#0a0a0a">Hyp</text>
<text x="167.2" y="1447" font-size="20.1" font-weight="700" text-anchor="end" fill="#0a0a0a">Blank serum</text>
<text x="167.2" y="1471.6" font-size="20.1" font-weight="700" text-anchor="end" fill="#0a0a0a">SYYQ-containing</text>
<text x="167.2" y="1495.3" font-size="20.1" font-weight="700" text-anchor="end" fill="#0a0a0a">serum</text>
<text x="193.4" y="1420.7" font-size="27" font-weight="700" text-anchor="middle" fill="#0a0a0a">-</text>
<text x="265.8" y="1419.3" font-size="27.5" font-weight="700" text-anchor="middle" fill="#0a0a0a">+</text>
<text x="333.8" y="1419.3" font-size="27.5" font-weight="700" text-anchor="middle" fill="#0a0a0a">+</text>
<text x="409.9" y="1419.3" font-size="27.5" font-weight="700" text-anchor="middle" fill="#0a0a0a">+</text>
<text x="193.4" y="1454.8" font-size="27" font-weight="700" text-anchor="middle" fill="#0a0a0a">-</text>
<text x="270.2" y="1456.1" font-size="27" font-weight="700" text-anchor="middle" fill="#0a0a0a">-</text>
<text x="333.4" y="1458.6" font-size="27.5" font-weight="700" text-anchor="middle" fill="#0a0a0a">+</text>
<text x="410.2" y="1457.1" font-size="27" font-weight="700" text-anchor="middle" fill="#0a0a0a">-</text>
<text x="193.4" y="1492.5" font-size="27" font-weight="700" text-anchor="middle" fill="#0a0a0a">-</text>
<text x="271.8" y="1492.5" font-size="27" font-weight="700" text-anchor="middle" fill="#0a0a0a">-</text>
<text x="332.5" y="1492.5" font-size="27" font-weight="700" text-anchor="middle" fill="#0a0a0a">-</text>
<text x="413.1" y="1491.1" font-size="27.5" font-weight="700" text-anchor="middle" fill="#0a0a0a">+</text>
</svg>
</body>
</html>
